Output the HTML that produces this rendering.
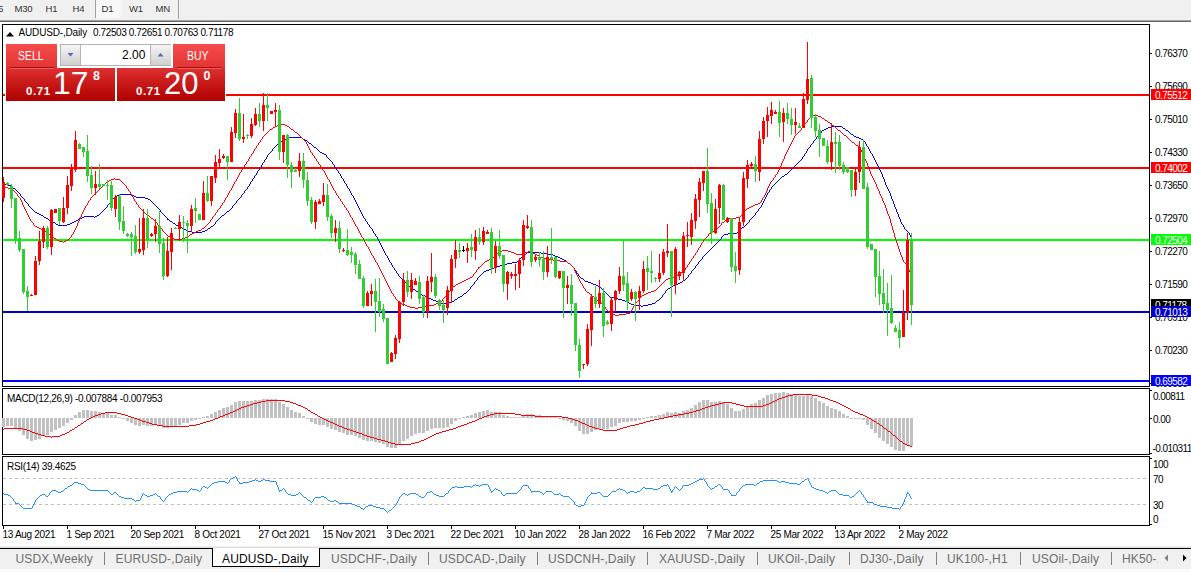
<!DOCTYPE html>
<html><head><meta charset="utf-8"><title>AUDUSD-,Daily</title>
<style>
html,body{margin:0;padding:0;background:#fff;}
html{width:1191px;height:572px;overflow:hidden;}
body{width:1191px;height:572px;position:relative;overflow:hidden;font-family:"Liberation Sans", sans-serif;}
.t{position:absolute;white-space:nowrap;line-height:1;color:#000;}
.ax{font-size:10px;letter-spacing:-0.55px;}
.tx{font-size:10px;letter-spacing:-0.3px;}
.tb{font-size:9.5px;color:#303030;letter-spacing:-0.2px;}
.tab{font-size:12px;color:#6e6e6e;letter-spacing:0.15px;}
.lbl{position:absolute;left:1151px;width:40px;height:11px;color:#fff;font-size:10px;letter-spacing:-0.55px;line-height:11px;white-space:nowrap;}
.lbl span{position:absolute;left:4px;top:1px;}
svg{position:absolute;left:0;top:0;}
</style></head><body>
<!-- toolbar -->
<div style="position:absolute;left:0;top:0;width:1191px;height:20px;background:#f0f0f0;"></div>
<div style="position:absolute;left:0;top:20px;width:1191px;height:1px;background:#a0a0a0;"></div>
<div style="position:absolute;left:0;top:21px;width:1191px;height:1px;background:#696969;"></div>
<div style="position:absolute;left:95px;top:0;width:25px;height:18px;background:#f8f8f8;border-left:1px solid #a0a0a0;"></div>
<div style="position:absolute;left:178px;top:0;width:1px;height:19px;background:#a0a0a0;"></div>

<div class="t tb" style="left:-2px;top:4px;">5</div>
<div class="t tb" style="left:14.5px;top:4px;">M30</div>
<div class="t tb" style="left:45.5px;top:4px;">H1</div>
<div class="t tb" style="left:72.5px;top:4px;">H4</div>
<div class="t tb" style="left:101.5px;top:4px;">D1</div>
<div class="t tb" style="left:129px;top:4px;">W1</div>
<div class="t tb" style="left:155.5px;top:4px;">MN</div>
<svg width="1191" height="572" viewBox="0 0 1191 572" shape-rendering="crispEdges">
<rect x="2" y="24" width="1148" height="1" fill="#000"/><rect x="2" y="386" width="1148" height="1" fill="#000"/><rect x="2" y="24" width="1" height="363" fill="#000"/><rect x="1149" y="24" width="1" height="363" fill="#000"/>
<rect x="2" y="388" width="1148" height="1" fill="#000"/><rect x="2" y="454" width="1148" height="1" fill="#000"/><rect x="2" y="388" width="1" height="67" fill="#000"/><rect x="1149" y="388" width="1" height="67" fill="#000"/>
<rect x="2" y="456" width="1148" height="1" fill="#000"/><rect x="2" y="525" width="1148" height="1" fill="#000"/><rect x="2" y="456" width="1" height="70" fill="#000"/><rect x="1149" y="456" width="1" height="70" fill="#000"/>
<rect x="1150" y="53" width="2" height="1" fill="#000"/>
<rect x="1150" y="86" width="2" height="1" fill="#000"/>
<rect x="1150" y="119" width="2" height="1" fill="#000"/>
<rect x="1150" y="152" width="2" height="1" fill="#000"/>
<rect x="1150" y="185" width="2" height="1" fill="#000"/>
<rect x="1150" y="218" width="2" height="1" fill="#000"/>
<rect x="1150" y="251" width="2" height="1" fill="#000"/>
<rect x="1150" y="284" width="2" height="1" fill="#000"/>
<rect x="1150" y="317" width="2" height="1" fill="#000"/>
<rect x="1150" y="350" width="2" height="1" fill="#000"/>
<rect x="1150" y="383" width="2" height="1" fill="#000"/>
<rect x="1150" y="390" width="2" height="1" fill="#000"/>
<rect x="1150" y="418" width="2" height="1" fill="#000"/>
<rect x="1150" y="453" width="2" height="1" fill="#000"/>
<rect x="1150" y="458" width="2" height="1" fill="#000"/>
<rect x="1150" y="524" width="2" height="1" fill="#000"/>
<rect x="3" y="526" width="1" height="3" fill="#000"/>
<rect x="67" y="526" width="1" height="3" fill="#000"/>
<rect x="131" y="526" width="1" height="3" fill="#000"/>
<rect x="195" y="526" width="1" height="3" fill="#000"/>
<rect x="259" y="526" width="1" height="3" fill="#000"/>
<rect x="323" y="526" width="1" height="3" fill="#000"/>
<rect x="387" y="526" width="1" height="3" fill="#000"/>
<rect x="451" y="526" width="1" height="3" fill="#000"/>
<rect x="515" y="526" width="1" height="3" fill="#000"/>
<rect x="579" y="526" width="1" height="3" fill="#000"/>
<rect x="643" y="526" width="1" height="3" fill="#000"/>
<rect x="707" y="526" width="1" height="3" fill="#000"/>
<rect x="771" y="526" width="1" height="3" fill="#000"/>
<rect x="835" y="526" width="1" height="3" fill="#000"/>
<rect x="899" y="526" width="1" height="3" fill="#000"/>
<rect x="3" y="94" width="1146" height="2" fill="#ff0000"/>
<rect x="3" y="167" width="1146" height="2" fill="#ff0000"/>
<rect x="3" y="239" width="1146" height="2" fill="#00ff00"/>
<rect x="3" y="311" width="1146" height="2" fill="#0000cd"/>
<rect x="3" y="380" width="1146" height="2" fill="#0000ff"/>
<path d="M3.5,184V185M4.5,184V185M5.5,184V185M6.5,184V185M7.5,185V186M8.5,185V186M9.5,185V186M10.5,185V186M11.5,186V187M12.5,187V188M13.5,188V189M14.5,188V189M15.5,189V190M16.5,190V191M17.5,191V192M18.5,192V193M19.5,193V194M20.5,194V196M21.5,196V197M22.5,197V198M23.5,198V199M24.5,199V201M25.5,201V202M26.5,202V203M27.5,203V204M28.5,204V206M29.5,206V207M30.5,207V208M31.5,208V209M32.5,209V210M33.5,210V211M34.5,211V212M35.5,212V213M36.5,212V213M37.5,213V214M38.5,213V214M39.5,214V215M40.5,214V215M41.5,215V216M42.5,215V216M43.5,216V217M44.5,217V218M45.5,217V218M46.5,218V219M47.5,218V219M48.5,219V220M49.5,220V221M50.5,220V221M51.5,221V222M52.5,221V222M53.5,222V223M54.5,222V223M55.5,223V224M56.5,224V225M57.5,224V225M58.5,225V226M59.5,225V226M60.5,225V226M61.5,225V226M62.5,225V226M63.5,225V226M64.5,225V226M65.5,225V226M66.5,225V226M67.5,224V225M68.5,224V225M69.5,224V225M70.5,223V224M71.5,223V224M72.5,222V223M73.5,222V223M74.5,221V222M75.5,221V222M76.5,220V221M77.5,220V221M78.5,219V220M79.5,218V219M80.5,218V219M81.5,218V219M82.5,217V218M83.5,217V218M84.5,216V217M85.5,216V217M86.5,216V217M87.5,216V217M88.5,216V217M89.5,216V217M90.5,216V217M91.5,216V217M92.5,216V217M93.5,216V217M94.5,217V218M95.5,216V217M96.5,216V217M97.5,215V216M98.5,215V216M99.5,214V215M100.5,213V214M101.5,212V213M102.5,211V212M103.5,210V211M104.5,209V210M105.5,208V209M106.5,207V208M107.5,205V207M108.5,204V205M109.5,203V204M110.5,202V203M111.5,200V202M112.5,199V200M113.5,198V199M114.5,197V198M115.5,196V197M116.5,196V197M117.5,195V196M118.5,195V196M119.5,194V195M120.5,194V195M121.5,194V195M122.5,194V195M123.5,194V195M124.5,194V195M125.5,194V195M126.5,194V195M127.5,194V195M128.5,194V195M129.5,194V195M130.5,194V195M131.5,194V195M132.5,195V196M133.5,195V196M134.5,196V197M135.5,196V197M136.5,197V198M137.5,197V198M138.5,197V198M139.5,197V198M140.5,197V198M141.5,197V198M142.5,197V198M143.5,197V198M144.5,197V198M145.5,198V199M146.5,198V199M147.5,198V199M148.5,199V200M149.5,199V200M150.5,200V201M151.5,201V202M152.5,202V203M153.5,203V204M154.5,204V205M155.5,205V206M156.5,206V207M157.5,207V208M158.5,208V209M159.5,209V210M160.5,210V212M161.5,212V213M162.5,213V214M163.5,214V215M164.5,215V216M165.5,216V217M166.5,217V218M167.5,218V220M168.5,219V220M169.5,220V221M170.5,221V222M171.5,221V222M172.5,222V223M173.5,223V224M174.5,223V224M175.5,224V225M176.5,225V226M177.5,225V226M178.5,226V227M179.5,226V227M180.5,227V228M181.5,227V228M182.5,228V229M183.5,228V229M184.5,229V230M185.5,229V230M186.5,230V231M187.5,230V231M188.5,231V232M189.5,231V232M190.5,231V232M191.5,231V232M192.5,232V233M193.5,232V233M194.5,232V233M195.5,232V233M196.5,232V233M197.5,232V233M198.5,232V233M199.5,232V233M200.5,232V233M201.5,232V233M202.5,231V232M203.5,231V232M204.5,231V232M205.5,230V231M206.5,230V231M207.5,229V230M208.5,228V229M209.5,228V229M210.5,227V228M211.5,226V227M212.5,226V227M213.5,225V226M214.5,224V225M215.5,222V224M216.5,221V222M217.5,220V221M218.5,219V220M219.5,218V219M220.5,217V218M221.5,216V217M222.5,215V216M223.5,215V216M224.5,214V215M225.5,213V214M226.5,212V213M227.5,211V212M228.5,211V212M229.5,210V211M230.5,209V210M231.5,208V209M232.5,206V208M233.5,205V206M234.5,204V205M235.5,203V204M236.5,201V203M237.5,200V201M238.5,199V200M239.5,198V199M240.5,197V198M241.5,195V197M242.5,194V195M243.5,193V194M244.5,191V193M245.5,190V191M246.5,189V190M247.5,187V189M248.5,186V187M249.5,184V186M250.5,182V184M251.5,181V182M252.5,179V181M253.5,178V179M254.5,176V178M255.5,175V176M256.5,173V175M257.5,171V173M258.5,170V171M259.5,168V170M260.5,167V168M261.5,165V167M262.5,163V165M263.5,162V163M264.5,160V162M265.5,159V160M266.5,157V159M267.5,155V157M268.5,154V155M269.5,153V154M270.5,152V153M271.5,151V152M272.5,149V151M273.5,148V149M274.5,147V148M275.5,146V147M276.5,145V146M277.5,144V145M278.5,143V144M279.5,142V143M280.5,142V143M281.5,141V142M282.5,140V141M283.5,140V141M284.5,139V140M285.5,139V140M286.5,138V139M287.5,138V139M288.5,138V139M289.5,137V138M290.5,137V138M291.5,137V138M292.5,137V138M293.5,137V138M294.5,137V138M295.5,137V138M296.5,137V138M297.5,137V138M298.5,137V138M299.5,137V138M300.5,137V138M301.5,137V138M302.5,138V139M303.5,139V140M304.5,139V140M305.5,140V141M306.5,140V141M307.5,141V142M308.5,142V143M309.5,143V144M310.5,143V144M311.5,144V145M312.5,145V146M313.5,146V147M314.5,147V148M315.5,147V148M316.5,148V149M317.5,149V150M318.5,150V151M319.5,151V152M320.5,152V153M321.5,152V153M322.5,153V154M323.5,153V154M324.5,154V155M325.5,154V155M326.5,155V157M327.5,157V158M328.5,158V159M329.5,159V160M330.5,160V161M331.5,161V162M332.5,162V164M333.5,164V165M334.5,165V167M335.5,167V168M336.5,168V170M337.5,170V171M338.5,171V173M339.5,173V174M340.5,174V176M341.5,176V178M342.5,178V179M343.5,179V181M344.5,181V183M345.5,183V184M346.5,184V186M347.5,186V188M348.5,188V189M349.5,189V191M350.5,191V193M351.5,193V195M352.5,195V196M353.5,196V198M354.5,198V200M355.5,200V202M356.5,202V204M357.5,204V206M358.5,206V208M359.5,208V210M360.5,210V212M361.5,212V214M362.5,214V216M363.5,216V218M364.5,218V219M365.5,219V221M366.5,221V222M367.5,222V224M368.5,224V225M369.5,225V227M370.5,227V228M371.5,228V229M372.5,229V231M373.5,231V233M374.5,233V234M375.5,234V236M376.5,236V237M377.5,237V239M378.5,239V241M379.5,241V243M380.5,243V245M381.5,245V247M382.5,247V249M383.5,249V251M384.5,251V253M385.5,253V255M386.5,255V256M387.5,256V258M388.5,258V260M389.5,260V262M390.5,262V263M391.5,263V265M392.5,265V267M393.5,267V268M394.5,268V270M395.5,270V271M396.5,271V273M397.5,273V274M398.5,274V276M399.5,276V277M400.5,277V278M401.5,278V279M402.5,279V280M403.5,280V281M404.5,281V282M405.5,282V283M406.5,283V284M407.5,284V285M408.5,285V286M409.5,286V287M410.5,286V287M411.5,287V288M412.5,288V289M413.5,289V290M414.5,289V290M415.5,290V291M416.5,291V292M417.5,291V292M418.5,292V293M419.5,293V294M420.5,293V294M421.5,294V295M422.5,295V296M423.5,295V296M424.5,295V296M425.5,296V297M426.5,296V297M427.5,297V298M428.5,297V298M429.5,298V299M430.5,298V299M431.5,299V300M432.5,299V300M433.5,300V301M434.5,300V301M435.5,300V301M436.5,301V302M437.5,301V302M438.5,302V303M439.5,302V303M440.5,302V303M441.5,303V304M442.5,303V304M443.5,303V304M444.5,303V304M445.5,303V304M446.5,303V304M447.5,302V303M448.5,302V303M449.5,302V303M450.5,302V303M451.5,301V302M452.5,301V302M453.5,301V302M454.5,300V301M455.5,299V300M456.5,299V300M457.5,298V299M458.5,297V298M459.5,297V298M460.5,296V297M461.5,296V297M462.5,295V296M463.5,294V295M464.5,293V294M465.5,293V294M466.5,292V293M467.5,291V292M468.5,290V291M469.5,289V290M470.5,287V289M471.5,286V287M472.5,285V286M473.5,284V285M474.5,282V284M475.5,281V282M476.5,280V281M477.5,278V280M478.5,277V278M479.5,276V277M480.5,275V276M481.5,274V275M482.5,273V274M483.5,272V273M484.5,271V272M485.5,271V272M486.5,270V271M487.5,270V271M488.5,270V271M489.5,269V270M490.5,269V270M491.5,268V269M492.5,268V269M493.5,268V269M494.5,267V268M495.5,267V268M496.5,266V267M497.5,266V267M498.5,266V267M499.5,266V267M500.5,265V266M501.5,265V266M502.5,265V266M503.5,264V265M504.5,264V265M505.5,264V265M506.5,264V265M507.5,263V264M508.5,263V264M509.5,263V264M510.5,263V264M511.5,263V264M512.5,262V263M513.5,262V263M514.5,262V263M515.5,262V263M516.5,262V263M517.5,261V262M518.5,260V261M519.5,259V260M520.5,258V259M521.5,257V258M522.5,256V257M523.5,255V256M524.5,254V255M525.5,254V255M526.5,253V254M527.5,252V253M528.5,252V253M529.5,252V253M530.5,252V253M531.5,252V253M532.5,252V253M533.5,252V253M534.5,252V253M535.5,252V253M536.5,252V253M537.5,252V253M538.5,252V253M539.5,252V253M540.5,252V253M541.5,253V254M542.5,253V254M543.5,253V254M544.5,253V254M545.5,253V254M546.5,253V254M547.5,253V254M548.5,254V255M549.5,254V255M550.5,254V255M551.5,254V255M552.5,254V255M553.5,255V256M554.5,255V256M555.5,256V257M556.5,256V257M557.5,256V257M558.5,257V258M559.5,257V258M560.5,258V259M561.5,258V259M562.5,259V260M563.5,259V260M564.5,260V261M565.5,260V261M566.5,261V262M567.5,262V263M568.5,263V264M569.5,263V264M570.5,264V265M571.5,265V266M572.5,266V267M573.5,267V268M574.5,268V270M575.5,270V271M576.5,271V273M577.5,273V274M578.5,274V276M579.5,276V277M580.5,277V278M581.5,278V279M582.5,278V279M583.5,279V280M584.5,280V281M585.5,281V282M586.5,281V282M587.5,281V282M588.5,282V283M589.5,282V283M590.5,282V283M591.5,283V284M592.5,283V284M593.5,284V285M594.5,284V285M595.5,284V285M596.5,285V286M597.5,285V286M598.5,286V287M599.5,286V287M600.5,287V288M601.5,288V289M602.5,289V290M603.5,290V291M604.5,291V292M605.5,292V293M606.5,293V294M607.5,294V295M608.5,295V296M609.5,296V297M610.5,297V298M611.5,297V298M612.5,297V298M613.5,297V298M614.5,298V299M615.5,298V299M616.5,298V299M617.5,298V299M618.5,299V300M619.5,299V300M620.5,299V300M621.5,299V300M622.5,300V301M623.5,300V301M624.5,300V301M625.5,301V302M626.5,301V302M627.5,302V303M628.5,302V303M629.5,303V304M630.5,303V304M631.5,304V305M632.5,304V305M633.5,304V305M634.5,305V306M635.5,305V306M636.5,305V306M637.5,305V306M638.5,305V306M639.5,305V306M640.5,305V306M641.5,306V307M642.5,306V307M643.5,305V306M644.5,305V306M645.5,305V306M646.5,305V306M647.5,305V306M648.5,304V305M649.5,304V305M650.5,304V305M651.5,304V305M652.5,303V304M653.5,303V304M654.5,303V304M655.5,302V303M656.5,301V302M657.5,300V301M658.5,300V301M659.5,299V300M660.5,298V299M661.5,297V298M662.5,295V297M663.5,294V295M664.5,293V294M665.5,291V293M666.5,290V291M667.5,289V290M668.5,288V289M669.5,288V289M670.5,287V288M671.5,286V287M672.5,286V287M673.5,285V286M674.5,285V286M675.5,284V285M676.5,284V285M677.5,284V285M678.5,283V284M679.5,283V284M680.5,282V283M681.5,282V283M682.5,281V282M683.5,280V281M684.5,280V281M685.5,279V280M686.5,278V279M687.5,277V278M688.5,275V277M689.5,274V275M690.5,273V274M691.5,271V273M692.5,270V271M693.5,269V270M694.5,268V269M695.5,266V268M696.5,265V266M697.5,264V265M698.5,262V264M699.5,261V262M700.5,260V261M701.5,259V260M702.5,257V259M703.5,256V257M704.5,255V256M705.5,254V255M706.5,253V254M707.5,252V253M708.5,251V252M709.5,250V251M710.5,249V250M711.5,248V249M712.5,247V248M713.5,246V247M714.5,245V246M715.5,244V245M716.5,243V244M717.5,242V243M718.5,241V242M719.5,240V241M720.5,239V240M721.5,237V239M722.5,236V237M723.5,235V236M724.5,234V235M725.5,234V235M726.5,234V235M727.5,234V235M728.5,233V234M729.5,233V234M730.5,233V234M731.5,233V234M732.5,233V234M733.5,233V234M734.5,233V234M735.5,233V234M736.5,233V234M737.5,232V233M738.5,231V232M739.5,230V231M740.5,229V230M741.5,228V229M742.5,227V228M743.5,227V228M744.5,226V227M745.5,225V226M746.5,224V225M747.5,223V224M748.5,222V223M749.5,220V222M750.5,219V220M751.5,218V219M752.5,217V218M753.5,216V217M754.5,215V216M755.5,213V215M756.5,212V213M757.5,211V212M758.5,209V211M759.5,208V209M760.5,207V208M761.5,205V207M762.5,203V205M763.5,201V203M764.5,199V201M765.5,197V199M766.5,195V197M767.5,193V195M768.5,192V193M769.5,190V192M770.5,189V190M771.5,187V189M772.5,186V187M773.5,185V186M774.5,184V185M775.5,183V184M776.5,182V183M777.5,181V182M778.5,180V181M779.5,179V180M780.5,178V179M781.5,177V178M782.5,176V177M783.5,176V177M784.5,175V176M785.5,174V175M786.5,174V175M787.5,173V174M788.5,172V173M789.5,171V172M790.5,170V171M791.5,169V170M792.5,168V169M793.5,167V168M794.5,166V167M795.5,165V166M796.5,164V165M797.5,163V164M798.5,162V163M799.5,161V162M800.5,160V161M801.5,159V160M802.5,157V159M803.5,156V157M804.5,154V156M805.5,153V154M806.5,151V153M807.5,149V151M808.5,148V149M809.5,147V148M810.5,145V147M811.5,144V145M812.5,143V144M813.5,141V143M814.5,140V141M815.5,139V140M816.5,137V139M817.5,136V137M818.5,135V136M819.5,134V135M820.5,133V134M821.5,131V133M822.5,130V131M823.5,130V131M824.5,129V130M825.5,129V130M826.5,128V129M827.5,128V129M828.5,127V128M829.5,127V128M830.5,127V128M831.5,127V128M832.5,126V127M833.5,126V127M834.5,126V127M835.5,126V127M836.5,126V127M837.5,126V127M838.5,126V127M839.5,126V127M840.5,126V127M841.5,126V127M842.5,127V128M843.5,128V129M844.5,128V129M845.5,129V130M846.5,130V131M847.5,130V131M848.5,131V132M849.5,132V133M850.5,133V134M851.5,134V135M852.5,134V135M853.5,135V136M854.5,136V137M855.5,136V137M856.5,137V138M857.5,137V138M858.5,137V138M859.5,138V139M860.5,138V139M861.5,139V140M862.5,139V140M863.5,140V141M864.5,141V142M865.5,142V144M866.5,144V146M867.5,146V147M868.5,147V149M869.5,149V151M870.5,151V153M871.5,153V154M872.5,154V156M873.5,156V158M874.5,158V160M875.5,160V162M876.5,162V164M877.5,164V166M878.5,166V168M879.5,168V170M880.5,170V172M881.5,172V174M882.5,174V176M882.5,176V177M883.5,177V179M884.5,179V181M884.5,181V182M885.5,182V184M885.5,184V185M886.5,185V187M887.5,187V189M888.5,189V191M889.5,191V193M890.5,193V195M890.5,195V196M891.5,196V198M891.5,198V199M892.5,199V201M893.5,201V203M893.5,203V204M894.5,204V206M894.5,206V207M895.5,207V209M896.5,209V211M896.5,211V212M897.5,212V214M898.5,214V216M898.5,216V217M899.5,217V219M900.5,219V221M900.5,221V222M901.5,222V224M902.5,224V225M903.5,225V227M904.5,227V229M905.5,229V230M906.5,230V231M907.5,231V232M908.5,232V233M909.5,233V235M910.5,235V237M911.5,237V238" fill="none" stroke="#0000e0" stroke-width="1"/>
<path d="M3.5,186V187M4.5,187V188M5.5,187V188M6.5,187V188M7.5,187V188M8.5,188V189M9.5,188V189M10.5,188V189M11.5,189V190M12.5,190V191M13.5,190V191M14.5,191V192M15.5,192V193M16.5,193V194M17.5,194V196M18.5,196V197M19.5,197V198M20.5,198V200M21.5,200V202M22.5,202V204M22.5,204V205M23.5,205V207M24.5,207V209M25.5,209V211M26.5,211V213M27.5,213V215M28.5,215V217M29.5,217V219M30.5,219V221M31.5,221V222M32.5,222V223M33.5,223V225M34.5,225V226M35.5,226V227M36.5,226V227M37.5,227V228M38.5,227V228M39.5,228V229M40.5,228V229M41.5,229V230M42.5,229V230M43.5,230V231M44.5,230V231M45.5,231V232M46.5,232V233M47.5,232V233M48.5,233V234M49.5,234V235M50.5,235V236M51.5,236V237M52.5,236V237M53.5,237V238M54.5,238V239M55.5,238V239M56.5,239V240M57.5,240V241M58.5,240V241M59.5,241V242M60.5,241V242M61.5,241V242M62.5,241V242M63.5,242V243M64.5,241V242M65.5,241V242M66.5,240V241M67.5,240V241M68.5,239V240M69.5,238V239M70.5,237V238M71.5,235V237M72.5,234V235M73.5,232V234M74.5,231V232M74.5,230V231M75.5,228V230M76.5,226V228M77.5,224V226M77.5,223V224M78.5,221V223M79.5,219V221M80.5,217V219M81.5,215V217M81.5,214V215M82.5,212V214M83.5,210V212M84.5,208V210M85.5,206V208M86.5,205V206M87.5,203V205M88.5,201V203M89.5,200V201M90.5,198V200M91.5,197V198M92.5,196V197M93.5,195V196M94.5,194V195M95.5,193V194M96.5,192V193M97.5,191V192M98.5,190V191M99.5,189V190M100.5,188V189M101.5,187V188M102.5,186V187M103.5,185V186M104.5,184V185M105.5,183V184M106.5,182V183M107.5,182V183M108.5,181V182M109.5,180V181M110.5,180V181M111.5,179V180M112.5,179V180M113.5,179V180M114.5,178V179M115.5,179V180M116.5,179V180M117.5,179V180M118.5,179V180M119.5,179V180M120.5,180V181M121.5,181V182M122.5,182V183M123.5,183V184M124.5,184V185M125.5,185V186M126.5,186V188M127.5,188V189M128.5,189V191M129.5,191V192M130.5,192V194M131.5,194V196M132.5,196V197M133.5,197V199M134.5,199V201M135.5,201V202M136.5,202V204M137.5,204V205M138.5,205V207M139.5,207V208M140.5,208V209M141.5,209V210M142.5,210V211M143.5,211V212M144.5,212V213M145.5,213V214M146.5,214V215M147.5,215V216M148.5,215V216M149.5,216V217M150.5,217V218M151.5,218V219M152.5,218V219M153.5,219V220M154.5,220V221M155.5,221V222M156.5,222V223M157.5,223V225M158.5,225V226M159.5,226V227M160.5,227V228M161.5,228V229M162.5,229V231M163.5,231V232M164.5,232V233M165.5,233V234M166.5,234V235M167.5,235V236M168.5,236V237M169.5,236V237M170.5,237V238M171.5,237V238M172.5,238V239M173.5,238V239M174.5,239V240M175.5,239V240M176.5,239V240M177.5,239V240M178.5,239V240M179.5,239V240M180.5,239V240M181.5,239V240M182.5,238V239M183.5,238V239M184.5,238V239M185.5,237V238M186.5,237V238M187.5,236V237M188.5,236V237M189.5,235V236M190.5,234V235M191.5,234V235M192.5,233V234M193.5,233V234M194.5,232V233M195.5,232V233M196.5,231V232M197.5,231V232M198.5,230V231M199.5,230V231M200.5,230V231M201.5,229V230M202.5,228V229M203.5,228V229M204.5,227V228M205.5,226V227M206.5,225V226M207.5,224V225M208.5,223V224M209.5,222V223M210.5,220V222M211.5,219V220M212.5,217V219M213.5,216V217M214.5,215V216M215.5,213V215M216.5,212V213M217.5,210V212M218.5,209V210M219.5,208V209M220.5,206V208M221.5,205V206M222.5,203V205M223.5,202V203M224.5,200V202M225.5,198V200M226.5,197V198M227.5,195V197M228.5,193V195M229.5,191V193M230.5,190V191M231.5,188V190M232.5,186V188M233.5,184V186M234.5,182V184M235.5,181V182M236.5,179V181M237.5,177V179M238.5,175V177M239.5,173V175M240.5,172V173M241.5,170V172M242.5,169V170M243.5,167V169M244.5,165V167M245.5,164V165M246.5,162V164M247.5,161V162M248.5,159V161M249.5,157V159M250.5,156V157M251.5,154V156M252.5,153V154M253.5,151V153M254.5,149V151M255.5,148V149M256.5,146V148M257.5,145V146M258.5,143V145M259.5,142V143M260.5,140V142M261.5,139V140M262.5,137V139M263.5,136V137M264.5,135V136M265.5,134V135M266.5,133V134M267.5,132V133M268.5,131V132M269.5,130V131M270.5,129V130M271.5,129V130M272.5,128V129M273.5,127V128M274.5,127V128M275.5,126V127M276.5,126V127M277.5,125V126M278.5,125V126M279.5,125V126M280.5,125V126M281.5,124V125M282.5,124V125M283.5,124V125M284.5,124V125M285.5,125V126M286.5,125V126M287.5,126V127M288.5,126V127M289.5,127V128M290.5,128V129M291.5,129V130M292.5,129V130M293.5,130V131M294.5,131V132M295.5,132V133M296.5,132V133M297.5,133V134M298.5,134V135M299.5,135V136M300.5,136V137M301.5,137V138M302.5,138V139M303.5,139V140M304.5,140V141M305.5,141V142M306.5,142V144M307.5,144V146M308.5,146V148M309.5,148V150M310.5,150V152M311.5,152V153M312.5,153V155M313.5,155V156M314.5,156V158M315.5,158V159M316.5,159V161M317.5,161V162M318.5,162V164M319.5,164V165M320.5,165V167M321.5,167V168M322.5,168V170M323.5,170V171M324.5,171V173M325.5,173V175M326.5,175V177M327.5,177V179M328.5,179V180M329.5,180V182M330.5,182V184M331.5,184V186M332.5,186V188M333.5,188V190M334.5,190V191M335.5,191V193M336.5,193V195M337.5,195V196M338.5,196V198M339.5,198V199M340.5,199V201M341.5,201V202M342.5,202V204M343.5,204V205M344.5,205V207M345.5,207V208M346.5,208V210M347.5,210V211M348.5,211V213M349.5,213V215M350.5,215V217M351.5,217V218M352.5,218V220M353.5,220V222M354.5,222V224M355.5,224V226M356.5,226V227M357.5,227V229M358.5,229V231M359.5,231V233M360.5,233V235M361.5,235V237M362.5,237V238M363.5,238V240M364.5,240V242M365.5,242V244M366.5,244V246M367.5,246V247M368.5,247V249M369.5,249V251M370.5,251V253M371.5,253V255M372.5,255V256M373.5,256V258M374.5,258V260M375.5,260V262M376.5,262V263M377.5,263V265M378.5,265V267M379.5,267V269M380.5,269V271M381.5,271V273M382.5,273V275M383.5,275V277M384.5,277V279M385.5,279V281M386.5,281V283M387.5,283V285M388.5,285V287M389.5,287V289M390.5,289V291M391.5,291V293M392.5,293V294M393.5,294V296M394.5,296V297M395.5,297V299M396.5,299V300M397.5,300V301M398.5,301V302M399.5,302V303M400.5,302V303M401.5,303V304M402.5,304V305M403.5,304V305M404.5,304V305M405.5,305V306M406.5,305V306M407.5,306V307M408.5,306V307M409.5,306V307M410.5,307V308M411.5,307V308M412.5,307V308M413.5,307V308M414.5,307V308M415.5,308V309M416.5,308V309M417.5,308V309M418.5,307V308M419.5,307V308M420.5,307V308M421.5,307V308M422.5,307V308M423.5,307V308M424.5,307V308M425.5,306V307M426.5,306V307M427.5,306V307M428.5,306V307M429.5,305V306M430.5,305V306M431.5,305V306M432.5,305V306M433.5,305V306M434.5,304V305M435.5,304V305M436.5,303V304M437.5,303V304M438.5,302V303M439.5,302V303M440.5,302V303M441.5,301V302M442.5,299V301M443.5,298V299M444.5,297V298M445.5,296V297M446.5,294V296M447.5,293V294M448.5,292V293M449.5,291V292M450.5,290V291M451.5,289V290M452.5,287V289M453.5,286V287M454.5,286V287M455.5,285V286M456.5,284V285M457.5,284V285M458.5,283V284M459.5,283V284M460.5,282V283M461.5,282V283M462.5,281V282M463.5,281V282M464.5,280V281M465.5,280V281M466.5,279V280M467.5,279V280M468.5,278V279M469.5,278V279M470.5,277V278M471.5,277V278M472.5,276V277M473.5,274V276M474.5,273V274M475.5,272V273M476.5,270V272M477.5,269V270M478.5,267V269M479.5,267V268M480.5,266V267M481.5,265V266M482.5,264V265M483.5,263V264M484.5,262V263M485.5,261V262M486.5,261V262M487.5,260V261M488.5,260V261M489.5,259V260M490.5,259V260M491.5,258V259M492.5,257V258M493.5,257V258M494.5,256V257M495.5,255V256M496.5,254V255M497.5,253V254M498.5,253V254M499.5,252V253M500.5,252V253M501.5,251V252M502.5,250V251M503.5,250V251M504.5,250V251M505.5,250V251M506.5,250V251M507.5,250V251M508.5,251V252M509.5,251V252M510.5,251V252M511.5,252V253M512.5,252V253M513.5,252V253M514.5,253V254M515.5,253V254M516.5,254V255M517.5,254V255M518.5,254V255M519.5,254V255M520.5,254V255M521.5,254V255M522.5,254V255M523.5,253V254M524.5,253V254M525.5,252V253M526.5,252V253M527.5,252V253M528.5,251V252M529.5,251V252M530.5,252V253M531.5,252V253M532.5,252V253M533.5,253V254M534.5,253V254M535.5,254V255M536.5,254V255M537.5,255V256M538.5,255V256M539.5,256V257M540.5,257V258M541.5,257V258M542.5,257V258M543.5,258V259M544.5,258V259M545.5,258V259M546.5,258V259M547.5,258V259M548.5,259V260M549.5,259V260M550.5,259V260M551.5,259V260M552.5,259V260M553.5,260V261M554.5,260V261M555.5,260V261M556.5,260V261M557.5,260V261M558.5,260V261M559.5,260V261M560.5,261V262M561.5,261V262M562.5,261V262M563.5,261V262M564.5,261V262M565.5,261V262M566.5,261V262M567.5,262V263M568.5,263V264M569.5,263V264M570.5,264V265M571.5,265V266M572.5,266V267M573.5,267V268M574.5,268V270M574.5,270V271M575.5,271V273M576.5,273V275M577.5,275V277M578.5,277V279M579.5,279V281M580.5,281V283M581.5,283V284M582.5,284V286M583.5,286V288M584.5,288V289M585.5,289V291M586.5,291V292M587.5,292V293M588.5,292V293M589.5,293V294M590.5,294V295M591.5,295V296M592.5,296V297M593.5,296V297M594.5,297V298M595.5,298V299M596.5,299V300M597.5,300V301M598.5,300V301M599.5,301V302M600.5,302V303M601.5,303V304M602.5,304V305M603.5,305V306M604.5,306V307M605.5,307V309M606.5,309V310M607.5,310V311M608.5,311V312M609.5,312V313M610.5,313V315M611.5,314V315M612.5,314V315M613.5,314V315M614.5,314V315M615.5,315V316M616.5,315V316M617.5,315V316M618.5,315V316M619.5,314V315M620.5,314V315M621.5,314V315M622.5,314V315M623.5,314V315M624.5,314V315M625.5,314V315M626.5,313V314M627.5,313V314M628.5,313V314M629.5,313V314M630.5,311V313M631.5,310V311M632.5,308V310M633.5,306V308M634.5,305V306M635.5,303V305M636.5,302V303M637.5,301V302M638.5,300V301M639.5,298V300M640.5,297V298M641.5,296V297M642.5,295V296M643.5,295V296M644.5,294V295M645.5,294V295M646.5,293V294M647.5,293V294M648.5,292V293M649.5,292V293M650.5,292V293M651.5,291V292M652.5,291V292M653.5,291V292M654.5,290V291M655.5,290V291M656.5,289V290M657.5,288V289M658.5,287V288M659.5,286V287M660.5,285V286M661.5,284V285M662.5,283V284M663.5,282V283M664.5,281V282M665.5,280V281M666.5,279V280M667.5,279V280M668.5,278V279M669.5,278V279M670.5,278V279M671.5,278V279M672.5,277V278M673.5,277V278M674.5,277V278M675.5,276V277M676.5,276V277M677.5,275V276M678.5,275V276M679.5,274V275M680.5,273V274M681.5,272V273M682.5,271V272M683.5,271V272M684.5,270V271M685.5,268V270M686.5,267V268M687.5,265V267M688.5,264V265M689.5,262V264M690.5,261V262M691.5,259V261M692.5,258V259M693.5,256V258M694.5,255V256M695.5,253V255M696.5,252V253M697.5,250V252M698.5,248V250M699.5,247V248M700.5,245V247M701.5,243V245M702.5,242V243M703.5,240V242M704.5,239V240M705.5,238V239M706.5,237V238M707.5,236V237M708.5,234V236M709.5,233V234M710.5,233V234M711.5,232V233M712.5,232V233M713.5,231V232M714.5,231V232M715.5,230V231M716.5,229V230M717.5,228V229M718.5,227V228M719.5,226V227M720.5,225V226M721.5,223V225M722.5,222V223M723.5,222V223M724.5,221V222M725.5,220V221M726.5,219V220M727.5,218V219M728.5,218V219M729.5,218V219M730.5,218V219M731.5,218V219M732.5,218V219M733.5,218V219M734.5,218V219M735.5,218V219M736.5,217V218M737.5,217V218M738.5,217V218M739.5,217V218M740.5,216V217M741.5,215V216M742.5,214V215M743.5,213V214M744.5,211V213M745.5,210V211M746.5,209V210M747.5,208V209M748.5,208V209M749.5,207V208M750.5,207V208M751.5,206V207M752.5,206V207M753.5,205V206M754.5,205V206M755.5,204V205M756.5,204V205M757.5,204V205M758.5,203V204M759.5,203V204M760.5,202V203M761.5,200V202M762.5,198V200M763.5,197V198M764.5,195V197M765.5,193V195M766.5,191V193M767.5,189V191M767.5,188V189M768.5,186V188M769.5,184V186M770.5,182V184M771.5,181V182M772.5,180V181M773.5,178V180M774.5,177V178M775.5,175V177M776.5,174V175M777.5,172V174M778.5,170V172M779.5,168V170M780.5,166V168M781.5,164V166M781.5,163V164M782.5,161V163M783.5,159V161M784.5,157V159M784.5,156V157M785.5,154V156M786.5,152V154M787.5,150V152M788.5,148V150M789.5,146V148M790.5,144V146M791.5,142V144M792.5,140V142M793.5,138V140M794.5,136V138M795.5,135V136M796.5,134V135M797.5,133V134M798.5,132V133M799.5,131V132M800.5,130V131M801.5,128V130M802.5,127V128M803.5,126V127M804.5,124V126M805.5,123V124M806.5,122V123M807.5,120V122M808.5,119V120M809.5,118V119M810.5,116V118M811.5,116V117M812.5,116V117M813.5,115V116M814.5,115V116M815.5,115V116M816.5,115V116M817.5,115V116M818.5,116V117M819.5,116V117M820.5,116V117M821.5,117V118M822.5,118V119M823.5,118V119M824.5,119V120M825.5,120V121M826.5,120V121M827.5,121V122M828.5,122V123M829.5,122V123M830.5,123V124M831.5,124V125M832.5,125V126M833.5,125V126M834.5,126V127M835.5,127V128M836.5,128V129M837.5,129V130M838.5,130V131M839.5,130V131M840.5,131V132M841.5,132V133M842.5,133V134M843.5,134V135M844.5,135V136M845.5,135V136M846.5,136V137M847.5,137V138M848.5,138V139M849.5,139V140M850.5,140V141M851.5,141V142M852.5,142V143M853.5,142V143M854.5,143V144M855.5,144V145M856.5,145V146M857.5,145V146M858.5,146V147M859.5,147V148M860.5,148V149M860.5,149V150M861.5,150V152M862.5,152V154M863.5,154V156M864.5,156V158M864.5,158V159M865.5,159V161M866.5,161V163M867.5,163V165M867.5,165V166M868.5,166V168M869.5,168V170M869.5,170V171M870.5,171V173M870.5,173V174M871.5,174V176M872.5,176V178M873.5,178V180M874.5,180V182M875.5,182V184M876.5,184V186M876.5,186V187M877.5,187V189M878.5,189V191M879.5,191V193M879.5,193V194M880.5,194V196M881.5,196V198M882.5,198V200M882.5,200V201M883.5,201V203M884.5,203V205M885.5,205V207M885.5,207V208M886.5,208V210M886.5,210V211M887.5,211V213M887.5,213V214M888.5,214V216M889.5,216V218M889.5,218V219M890.5,219V222M890.5,222V223M891.5,223V225M891.5,225V226M892.5,226V229M892.5,229V230M893.5,230V232M893.5,232V233M894.5,233V236M894.5,236V237M895.5,237V239M895.5,239V240M896.5,240V242M896.5,242V243M897.5,243V245M897.5,245V246M898.5,246V248M898.5,248V249M899.5,249V251M899.5,251V252M900.5,252V254M900.5,254V255M901.5,255V257M902.5,257V259M902.5,259V260M903.5,260V262M904.5,262V263M905.5,263V264M906.5,264V266M907.5,266V268M908.5,268V270M909.5,270V272M910.5,272V273M911.5,273V274" fill="none" stroke="#ff0000" stroke-width="1"/>
<rect x="3" y="177" width="1" height="25" fill="#ff0000"/>
<rect x="2" y="182" width="3" height="16" fill="#ff0000"/>
<rect x="7" y="182" width="1" height="4" fill="#32cd32"/>
<rect x="6" y="183" width="3" height="2" fill="#32cd32"/>
<rect x="11" y="184" width="1" height="24" fill="#32cd32"/>
<rect x="10" y="186" width="3" height="13" fill="#32cd32"/>
<rect x="15" y="198" width="1" height="46" fill="#32cd32"/>
<rect x="14" y="198" width="3" height="42" fill="#32cd32"/>
<rect x="19" y="231" width="1" height="21" fill="#32cd32"/>
<rect x="18" y="238" width="3" height="12" fill="#32cd32"/>
<rect x="23" y="249" width="1" height="45" fill="#32cd32"/>
<rect x="22" y="249" width="3" height="43" fill="#32cd32"/>
<rect x="27" y="286" width="1" height="25" fill="#32cd32"/>
<rect x="26" y="291" width="3" height="6" fill="#32cd32"/>
<rect x="31" y="294" width="1" height="2" fill="#ff0000"/>
<rect x="30" y="295" width="3" height="1" fill="#ff0000"/>
<rect x="35" y="256" width="1" height="39" fill="#ff0000"/>
<rect x="34" y="261" width="3" height="34" fill="#ff0000"/>
<rect x="39" y="231" width="1" height="34" fill="#ff0000"/>
<rect x="38" y="241" width="3" height="20" fill="#ff0000"/>
<rect x="43" y="226" width="1" height="22" fill="#ff0000"/>
<rect x="42" y="228" width="3" height="14" fill="#ff0000"/>
<rect x="47" y="226" width="1" height="23" fill="#32cd32"/>
<rect x="46" y="228" width="3" height="19" fill="#32cd32"/>
<rect x="51" y="209" width="1" height="46" fill="#ff0000"/>
<rect x="50" y="210" width="3" height="37" fill="#ff0000"/>
<rect x="55" y="209" width="1" height="4" fill="#ff0000"/>
<rect x="54" y="209" width="3" height="4" fill="#ff0000"/>
<rect x="59" y="208" width="1" height="17" fill="#32cd32"/>
<rect x="58" y="208" width="3" height="13" fill="#32cd32"/>
<rect x="63" y="197" width="1" height="26" fill="#ff0000"/>
<rect x="62" y="208" width="3" height="14" fill="#ff0000"/>
<rect x="67" y="176" width="1" height="38" fill="#ff0000"/>
<rect x="66" y="185" width="3" height="23" fill="#ff0000"/>
<rect x="71" y="164" width="1" height="27" fill="#ff0000"/>
<rect x="70" y="168" width="3" height="18" fill="#ff0000"/>
<rect x="75" y="131" width="1" height="41" fill="#ff0000"/>
<rect x="74" y="140" width="3" height="30" fill="#ff0000"/>
<rect x="79" y="143" width="1" height="6" fill="#32cd32"/>
<rect x="78" y="144" width="3" height="5" fill="#32cd32"/>
<rect x="83" y="147" width="1" height="10" fill="#32cd32"/>
<rect x="82" y="147" width="3" height="5" fill="#32cd32"/>
<rect x="87" y="135" width="1" height="47" fill="#32cd32"/>
<rect x="86" y="151" width="3" height="25" fill="#32cd32"/>
<rect x="91" y="166" width="1" height="28" fill="#32cd32"/>
<rect x="90" y="175" width="3" height="13" fill="#32cd32"/>
<rect x="95" y="171" width="1" height="24" fill="#ff0000"/>
<rect x="94" y="184" width="3" height="4" fill="#ff0000"/>
<rect x="99" y="164" width="1" height="25" fill="#32cd32"/>
<rect x="98" y="184" width="3" height="3" fill="#32cd32"/>
<rect x="103" y="184" width="1" height="2" fill="#32cd32"/>
<rect x="102" y="184" width="3" height="2" fill="#32cd32"/>
<rect x="107" y="180" width="1" height="20" fill="#32cd32"/>
<rect x="106" y="185" width="3" height="1" fill="#32cd32"/>
<rect x="111" y="181" width="1" height="30" fill="#32cd32"/>
<rect x="110" y="185" width="3" height="23" fill="#32cd32"/>
<rect x="115" y="195" width="1" height="22" fill="#ff0000"/>
<rect x="114" y="197" width="3" height="12" fill="#ff0000"/>
<rect x="119" y="194" width="1" height="36" fill="#32cd32"/>
<rect x="118" y="196" width="3" height="26" fill="#32cd32"/>
<rect x="123" y="206" width="1" height="28" fill="#32cd32"/>
<rect x="122" y="221" width="3" height="10" fill="#32cd32"/>
<rect x="127" y="233" width="1" height="4" fill="#32cd32"/>
<rect x="126" y="234" width="3" height="2" fill="#32cd32"/>
<rect x="131" y="232" width="1" height="24" fill="#32cd32"/>
<rect x="130" y="234" width="3" height="3" fill="#32cd32"/>
<rect x="135" y="225" width="1" height="29" fill="#32cd32"/>
<rect x="134" y="236" width="3" height="16" fill="#32cd32"/>
<rect x="139" y="218" width="1" height="36" fill="#ff0000"/>
<rect x="138" y="249" width="3" height="3" fill="#ff0000"/>
<rect x="143" y="209" width="1" height="46" fill="#ff0000"/>
<rect x="142" y="218" width="3" height="32" fill="#ff0000"/>
<rect x="147" y="209" width="1" height="39" fill="#32cd32"/>
<rect x="146" y="218" width="3" height="22" fill="#32cd32"/>
<rect x="151" y="233" width="1" height="4" fill="#ff0000"/>
<rect x="150" y="234" width="3" height="2" fill="#ff0000"/>
<rect x="155" y="219" width="1" height="23" fill="#ff0000"/>
<rect x="154" y="226" width="3" height="8" fill="#ff0000"/>
<rect x="159" y="211" width="1" height="42" fill="#32cd32"/>
<rect x="158" y="226" width="3" height="18" fill="#32cd32"/>
<rect x="163" y="238" width="1" height="42" fill="#32cd32"/>
<rect x="162" y="243" width="3" height="33" fill="#32cd32"/>
<rect x="167" y="237" width="1" height="40" fill="#ff0000"/>
<rect x="166" y="251" width="3" height="25" fill="#ff0000"/>
<rect x="171" y="228" width="1" height="42" fill="#ff0000"/>
<rect x="170" y="233" width="3" height="19" fill="#ff0000"/>
<rect x="175" y="227" width="1" height="2" fill="#32cd32"/>
<rect x="174" y="228" width="3" height="1" fill="#32cd32"/>
<rect x="179" y="215" width="1" height="26" fill="#ff0000"/>
<rect x="178" y="222" width="3" height="7" fill="#ff0000"/>
<rect x="183" y="216" width="1" height="26" fill="#32cd32"/>
<rect x="182" y="222" width="3" height="1" fill="#32cd32"/>
<rect x="187" y="220" width="1" height="33" fill="#32cd32"/>
<rect x="186" y="223" width="3" height="3" fill="#32cd32"/>
<rect x="191" y="205" width="1" height="27" fill="#ff0000"/>
<rect x="190" y="209" width="3" height="17" fill="#ff0000"/>
<rect x="195" y="198" width="1" height="25" fill="#32cd32"/>
<rect x="194" y="208" width="3" height="3" fill="#32cd32"/>
<rect x="199" y="214" width="1" height="6" fill="#32cd32"/>
<rect x="198" y="214" width="3" height="6" fill="#32cd32"/>
<rect x="203" y="181" width="1" height="39" fill="#ff0000"/>
<rect x="202" y="193" width="3" height="27" fill="#ff0000"/>
<rect x="207" y="176" width="1" height="26" fill="#32cd32"/>
<rect x="206" y="193" width="3" height="8" fill="#32cd32"/>
<rect x="211" y="176" width="1" height="30" fill="#ff0000"/>
<rect x="210" y="176" width="3" height="25" fill="#ff0000"/>
<rect x="215" y="155" width="1" height="28" fill="#ff0000"/>
<rect x="214" y="162" width="3" height="16" fill="#ff0000"/>
<rect x="219" y="149" width="1" height="18" fill="#ff0000"/>
<rect x="218" y="159" width="3" height="4" fill="#ff0000"/>
<rect x="223" y="154" width="1" height="5" fill="#ff0000"/>
<rect x="222" y="156" width="3" height="2" fill="#ff0000"/>
<rect x="227" y="156" width="1" height="24" fill="#32cd32"/>
<rect x="226" y="156" width="3" height="6" fill="#32cd32"/>
<rect x="231" y="127" width="1" height="35" fill="#ff0000"/>
<rect x="230" y="132" width="3" height="30" fill="#ff0000"/>
<rect x="235" y="109" width="1" height="29" fill="#ff0000"/>
<rect x="234" y="113" width="3" height="20" fill="#ff0000"/>
<rect x="239" y="98" width="1" height="43" fill="#32cd32"/>
<rect x="238" y="113" width="3" height="26" fill="#32cd32"/>
<rect x="243" y="114" width="1" height="29" fill="#ff0000"/>
<rect x="242" y="137" width="3" height="2" fill="#ff0000"/>
<rect x="247" y="134" width="1" height="5" fill="#32cd32"/>
<rect x="246" y="135" width="3" height="1" fill="#32cd32"/>
<rect x="251" y="118" width="1" height="20" fill="#ff0000"/>
<rect x="250" y="124" width="3" height="12" fill="#ff0000"/>
<rect x="255" y="108" width="1" height="18" fill="#ff0000"/>
<rect x="254" y="114" width="3" height="11" fill="#ff0000"/>
<rect x="259" y="103" width="1" height="24" fill="#32cd32"/>
<rect x="258" y="114" width="3" height="7" fill="#32cd32"/>
<rect x="263" y="93" width="1" height="38" fill="#ff0000"/>
<rect x="262" y="105" width="3" height="16" fill="#ff0000"/>
<rect x="267" y="93" width="1" height="28" fill="#32cd32"/>
<rect x="266" y="105" width="3" height="3" fill="#32cd32"/>
<rect x="271" y="111" width="1" height="3" fill="#ff0000"/>
<rect x="270" y="111" width="3" height="3" fill="#ff0000"/>
<rect x="275" y="103" width="1" height="23" fill="#ff0000"/>
<rect x="274" y="110" width="3" height="2" fill="#ff0000"/>
<rect x="279" y="105" width="1" height="55" fill="#32cd32"/>
<rect x="278" y="110" width="3" height="42" fill="#32cd32"/>
<rect x="283" y="135" width="1" height="28" fill="#ff0000"/>
<rect x="282" y="135" width="3" height="17" fill="#ff0000"/>
<rect x="287" y="134" width="1" height="44" fill="#32cd32"/>
<rect x="286" y="135" width="3" height="30" fill="#32cd32"/>
<rect x="291" y="162" width="1" height="26" fill="#32cd32"/>
<rect x="290" y="165" width="3" height="7" fill="#32cd32"/>
<rect x="295" y="168" width="1" height="4" fill="#32cd32"/>
<rect x="294" y="170" width="3" height="2" fill="#32cd32"/>
<rect x="299" y="153" width="1" height="24" fill="#ff0000"/>
<rect x="298" y="161" width="3" height="10" fill="#ff0000"/>
<rect x="303" y="153" width="1" height="35" fill="#32cd32"/>
<rect x="302" y="161" width="3" height="19" fill="#32cd32"/>
<rect x="307" y="172" width="1" height="34" fill="#32cd32"/>
<rect x="306" y="180" width="3" height="21" fill="#32cd32"/>
<rect x="311" y="197" width="1" height="27" fill="#32cd32"/>
<rect x="310" y="200" width="3" height="22" fill="#32cd32"/>
<rect x="315" y="200" width="1" height="29" fill="#ff0000"/>
<rect x="314" y="202" width="3" height="20" fill="#ff0000"/>
<rect x="319" y="199" width="1" height="5" fill="#ff0000"/>
<rect x="318" y="201" width="3" height="3" fill="#ff0000"/>
<rect x="323" y="183" width="1" height="23" fill="#ff0000"/>
<rect x="322" y="195" width="3" height="7" fill="#ff0000"/>
<rect x="327" y="184" width="1" height="37" fill="#32cd32"/>
<rect x="326" y="195" width="3" height="22" fill="#32cd32"/>
<rect x="331" y="214" width="1" height="24" fill="#32cd32"/>
<rect x="330" y="216" width="3" height="17" fill="#32cd32"/>
<rect x="335" y="220" width="1" height="22" fill="#ff0000"/>
<rect x="334" y="228" width="3" height="5" fill="#ff0000"/>
<rect x="339" y="221" width="1" height="32" fill="#32cd32"/>
<rect x="338" y="228" width="3" height="21" fill="#32cd32"/>
<rect x="343" y="248" width="1" height="4" fill="#ff0000"/>
<rect x="342" y="250" width="3" height="1" fill="#ff0000"/>
<rect x="347" y="229" width="1" height="27" fill="#32cd32"/>
<rect x="346" y="250" width="3" height="5" fill="#32cd32"/>
<rect x="351" y="247" width="1" height="16" fill="#32cd32"/>
<rect x="350" y="252" width="3" height="3" fill="#32cd32"/>
<rect x="355" y="252" width="1" height="22" fill="#32cd32"/>
<rect x="354" y="254" width="3" height="11" fill="#32cd32"/>
<rect x="359" y="260" width="1" height="19" fill="#32cd32"/>
<rect x="358" y="264" width="3" height="15" fill="#32cd32"/>
<rect x="363" y="276" width="1" height="32" fill="#32cd32"/>
<rect x="362" y="278" width="3" height="28" fill="#32cd32"/>
<rect x="367" y="291" width="1" height="15" fill="#ff0000"/>
<rect x="366" y="293" width="3" height="13" fill="#ff0000"/>
<rect x="371" y="284" width="1" height="22" fill="#ff0000"/>
<rect x="370" y="291" width="3" height="3" fill="#ff0000"/>
<rect x="375" y="279" width="1" height="53" fill="#32cd32"/>
<rect x="374" y="291" width="3" height="11" fill="#32cd32"/>
<rect x="379" y="278" width="1" height="39" fill="#32cd32"/>
<rect x="378" y="301" width="3" height="11" fill="#32cd32"/>
<rect x="383" y="304" width="1" height="18" fill="#32cd32"/>
<rect x="382" y="309" width="3" height="10" fill="#32cd32"/>
<rect x="387" y="318" width="1" height="46" fill="#32cd32"/>
<rect x="386" y="318" width="3" height="46" fill="#32cd32"/>
<rect x="391" y="352" width="1" height="10" fill="#ff0000"/>
<rect x="390" y="353" width="3" height="9" fill="#ff0000"/>
<rect x="395" y="335" width="1" height="24" fill="#ff0000"/>
<rect x="394" y="338" width="3" height="16" fill="#ff0000"/>
<rect x="399" y="301" width="1" height="42" fill="#ff0000"/>
<rect x="398" y="302" width="3" height="37" fill="#ff0000"/>
<rect x="403" y="273" width="1" height="33" fill="#ff0000"/>
<rect x="402" y="280" width="3" height="22" fill="#ff0000"/>
<rect x="407" y="271" width="1" height="26" fill="#32cd32"/>
<rect x="406" y="280" width="3" height="12" fill="#32cd32"/>
<rect x="411" y="273" width="1" height="26" fill="#ff0000"/>
<rect x="410" y="280" width="3" height="12" fill="#ff0000"/>
<rect x="415" y="278" width="1" height="7" fill="#ff0000"/>
<rect x="414" y="281" width="3" height="4" fill="#ff0000"/>
<rect x="419" y="276" width="1" height="28" fill="#32cd32"/>
<rect x="418" y="282" width="3" height="17" fill="#32cd32"/>
<rect x="423" y="295" width="1" height="23" fill="#32cd32"/>
<rect x="422" y="297" width="3" height="15" fill="#32cd32"/>
<rect x="427" y="276" width="1" height="42" fill="#ff0000"/>
<rect x="426" y="281" width="3" height="31" fill="#ff0000"/>
<rect x="431" y="253" width="1" height="39" fill="#ff0000"/>
<rect x="430" y="277" width="3" height="5" fill="#ff0000"/>
<rect x="435" y="274" width="1" height="24" fill="#32cd32"/>
<rect x="434" y="277" width="3" height="19" fill="#32cd32"/>
<rect x="439" y="299" width="1" height="11" fill="#32cd32"/>
<rect x="438" y="300" width="3" height="6" fill="#32cd32"/>
<rect x="443" y="300" width="1" height="23" fill="#32cd32"/>
<rect x="442" y="305" width="3" height="5" fill="#32cd32"/>
<rect x="447" y="286" width="1" height="29" fill="#ff0000"/>
<rect x="446" y="290" width="3" height="18" fill="#ff0000"/>
<rect x="451" y="255" width="1" height="48" fill="#ff0000"/>
<rect x="450" y="259" width="3" height="32" fill="#ff0000"/>
<rect x="455" y="240" width="1" height="28" fill="#ff0000"/>
<rect x="454" y="250" width="3" height="9" fill="#ff0000"/>
<rect x="459" y="243" width="1" height="15" fill="#32cd32"/>
<rect x="458" y="250" width="3" height="2" fill="#32cd32"/>
<rect x="463" y="246" width="1" height="6" fill="#000000"/>
<rect x="462" y="250" width="3" height="1" fill="#000000"/>
<rect x="467" y="243" width="1" height="20" fill="#ff0000"/>
<rect x="466" y="248" width="3" height="3" fill="#ff0000"/>
<rect x="471" y="234" width="1" height="23" fill="#32cd32"/>
<rect x="470" y="247" width="3" height="3" fill="#32cd32"/>
<rect x="475" y="230" width="1" height="30" fill="#ff0000"/>
<rect x="474" y="237" width="3" height="14" fill="#ff0000"/>
<rect x="479" y="228" width="1" height="17" fill="#32cd32"/>
<rect x="478" y="237" width="3" height="5" fill="#32cd32"/>
<rect x="483" y="227" width="1" height="18" fill="#ff0000"/>
<rect x="482" y="231" width="3" height="11" fill="#ff0000"/>
<rect x="487" y="230" width="1" height="4" fill="#ff0000"/>
<rect x="486" y="232" width="3" height="2" fill="#ff0000"/>
<rect x="491" y="228" width="1" height="46" fill="#32cd32"/>
<rect x="490" y="232" width="3" height="36" fill="#32cd32"/>
<rect x="495" y="241" width="1" height="32" fill="#ff0000"/>
<rect x="494" y="246" width="3" height="22" fill="#ff0000"/>
<rect x="499" y="230" width="1" height="29" fill="#32cd32"/>
<rect x="498" y="246" width="3" height="10" fill="#32cd32"/>
<rect x="503" y="255" width="1" height="37" fill="#32cd32"/>
<rect x="502" y="255" width="3" height="29" fill="#32cd32"/>
<rect x="507" y="271" width="1" height="29" fill="#ff0000"/>
<rect x="506" y="272" width="3" height="12" fill="#ff0000"/>
<rect x="511" y="272" width="1" height="7" fill="#ff0000"/>
<rect x="510" y="274" width="3" height="2" fill="#ff0000"/>
<rect x="515" y="264" width="1" height="26" fill="#ff0000"/>
<rect x="514" y="274" width="3" height="2" fill="#ff0000"/>
<rect x="519" y="258" width="1" height="30" fill="#ff0000"/>
<rect x="518" y="260" width="3" height="14" fill="#ff0000"/>
<rect x="523" y="220" width="1" height="46" fill="#ff0000"/>
<rect x="522" y="225" width="3" height="35" fill="#ff0000"/>
<rect x="527" y="215" width="1" height="14" fill="#ff0000"/>
<rect x="526" y="226" width="3" height="2" fill="#ff0000"/>
<rect x="531" y="220" width="1" height="47" fill="#32cd32"/>
<rect x="530" y="227" width="3" height="35" fill="#32cd32"/>
<rect x="535" y="254" width="1" height="8" fill="#ff0000"/>
<rect x="534" y="257" width="3" height="3" fill="#ff0000"/>
<rect x="539" y="252" width="1" height="15" fill="#32cd32"/>
<rect x="538" y="257" width="3" height="3" fill="#32cd32"/>
<rect x="543" y="251" width="1" height="29" fill="#32cd32"/>
<rect x="542" y="259" width="3" height="13" fill="#32cd32"/>
<rect x="547" y="246" width="1" height="31" fill="#ff0000"/>
<rect x="546" y="257" width="3" height="15" fill="#ff0000"/>
<rect x="551" y="228" width="1" height="36" fill="#32cd32"/>
<rect x="550" y="257" width="3" height="2" fill="#32cd32"/>
<rect x="555" y="257" width="1" height="21" fill="#32cd32"/>
<rect x="554" y="257" width="3" height="20" fill="#32cd32"/>
<rect x="559" y="271" width="1" height="8" fill="#ff0000"/>
<rect x="558" y="271" width="3" height="7" fill="#ff0000"/>
<rect x="563" y="271" width="1" height="47" fill="#32cd32"/>
<rect x="562" y="271" width="3" height="17" fill="#32cd32"/>
<rect x="567" y="276" width="1" height="28" fill="#ff0000"/>
<rect x="566" y="285" width="3" height="3" fill="#ff0000"/>
<rect x="571" y="274" width="1" height="42" fill="#32cd32"/>
<rect x="570" y="285" width="3" height="19" fill="#32cd32"/>
<rect x="575" y="303" width="1" height="48" fill="#32cd32"/>
<rect x="574" y="303" width="3" height="42" fill="#32cd32"/>
<rect x="579" y="339" width="1" height="39" fill="#32cd32"/>
<rect x="578" y="345" width="3" height="26" fill="#32cd32"/>
<rect x="583" y="364" width="1" height="5" fill="#ff0000"/>
<rect x="582" y="364" width="3" height="1" fill="#ff0000"/>
<rect x="587" y="324" width="1" height="42" fill="#ff0000"/>
<rect x="586" y="329" width="3" height="35" fill="#ff0000"/>
<rect x="591" y="294" width="1" height="52" fill="#ff0000"/>
<rect x="590" y="297" width="3" height="33" fill="#ff0000"/>
<rect x="595" y="286" width="1" height="22" fill="#32cd32"/>
<rect x="594" y="297" width="3" height="7" fill="#32cd32"/>
<rect x="599" y="280" width="1" height="28" fill="#ff0000"/>
<rect x="598" y="293" width="3" height="11" fill="#ff0000"/>
<rect x="603" y="288" width="1" height="49" fill="#32cd32"/>
<rect x="602" y="293" width="3" height="33" fill="#32cd32"/>
<rect x="607" y="320" width="1" height="5" fill="#32cd32"/>
<rect x="606" y="322" width="3" height="2" fill="#32cd32"/>
<rect x="611" y="297" width="1" height="34" fill="#ff0000"/>
<rect x="610" y="300" width="3" height="24" fill="#ff0000"/>
<rect x="615" y="290" width="1" height="22" fill="#ff0000"/>
<rect x="614" y="291" width="3" height="9" fill="#ff0000"/>
<rect x="619" y="267" width="1" height="27" fill="#ff0000"/>
<rect x="618" y="276" width="3" height="15" fill="#ff0000"/>
<rect x="623" y="240" width="1" height="51" fill="#32cd32"/>
<rect x="622" y="276" width="3" height="9" fill="#32cd32"/>
<rect x="627" y="272" width="1" height="38" fill="#32cd32"/>
<rect x="626" y="283" width="3" height="19" fill="#32cd32"/>
<rect x="631" y="289" width="1" height="12" fill="#ff0000"/>
<rect x="630" y="292" width="3" height="7" fill="#ff0000"/>
<rect x="635" y="291" width="1" height="30" fill="#32cd32"/>
<rect x="634" y="292" width="3" height="7" fill="#32cd32"/>
<rect x="639" y="286" width="1" height="24" fill="#ff0000"/>
<rect x="638" y="291" width="3" height="7" fill="#ff0000"/>
<rect x="643" y="261" width="1" height="32" fill="#ff0000"/>
<rect x="642" y="269" width="3" height="22" fill="#ff0000"/>
<rect x="647" y="256" width="1" height="34" fill="#32cd32"/>
<rect x="646" y="268" width="3" height="4" fill="#32cd32"/>
<rect x="651" y="251" width="1" height="32" fill="#32cd32"/>
<rect x="650" y="271" width="3" height="2" fill="#32cd32"/>
<rect x="655" y="277" width="1" height="5" fill="#32cd32"/>
<rect x="654" y="278" width="3" height="1" fill="#32cd32"/>
<rect x="659" y="254" width="1" height="28" fill="#ff0000"/>
<rect x="658" y="273" width="3" height="6" fill="#ff0000"/>
<rect x="663" y="249" width="1" height="26" fill="#ff0000"/>
<rect x="662" y="252" width="3" height="21" fill="#ff0000"/>
<rect x="667" y="224" width="1" height="33" fill="#ff0000"/>
<rect x="666" y="251" width="3" height="2" fill="#ff0000"/>
<rect x="671" y="251" width="1" height="66" fill="#32cd32"/>
<rect x="670" y="251" width="3" height="34" fill="#32cd32"/>
<rect x="675" y="247" width="1" height="47" fill="#ff0000"/>
<rect x="674" y="249" width="3" height="36" fill="#ff0000"/>
<rect x="679" y="271" width="1" height="9" fill="#ff0000"/>
<rect x="678" y="272" width="3" height="4" fill="#ff0000"/>
<rect x="683" y="232" width="1" height="49" fill="#ff0000"/>
<rect x="682" y="236" width="3" height="37" fill="#ff0000"/>
<rect x="687" y="222" width="1" height="25" fill="#ff0000"/>
<rect x="686" y="235" width="3" height="1" fill="#ff0000"/>
<rect x="691" y="213" width="1" height="32" fill="#ff0000"/>
<rect x="690" y="220" width="3" height="17" fill="#ff0000"/>
<rect x="695" y="194" width="1" height="35" fill="#ff0000"/>
<rect x="694" y="199" width="3" height="22" fill="#ff0000"/>
<rect x="699" y="178" width="1" height="39" fill="#ff0000"/>
<rect x="698" y="182" width="3" height="18" fill="#ff0000"/>
<rect x="703" y="171" width="1" height="20" fill="#ff0000"/>
<rect x="702" y="171" width="3" height="12" fill="#ff0000"/>
<rect x="707" y="148" width="1" height="65" fill="#32cd32"/>
<rect x="706" y="171" width="3" height="33" fill="#32cd32"/>
<rect x="711" y="193" width="1" height="51" fill="#32cd32"/>
<rect x="710" y="203" width="3" height="30" fill="#32cd32"/>
<rect x="715" y="199" width="1" height="35" fill="#ff0000"/>
<rect x="714" y="209" width="3" height="24" fill="#ff0000"/>
<rect x="719" y="184" width="1" height="40" fill="#ff0000"/>
<rect x="718" y="185" width="3" height="23" fill="#ff0000"/>
<rect x="723" y="184" width="1" height="36" fill="#32cd32"/>
<rect x="722" y="185" width="3" height="35" fill="#32cd32"/>
<rect x="727" y="217" width="1" height="6" fill="#ff0000"/>
<rect x="726" y="218" width="3" height="4" fill="#ff0000"/>
<rect x="731" y="218" width="1" height="54" fill="#32cd32"/>
<rect x="730" y="218" width="3" height="49" fill="#32cd32"/>
<rect x="735" y="252" width="1" height="31" fill="#32cd32"/>
<rect x="734" y="266" width="3" height="5" fill="#32cd32"/>
<rect x="739" y="218" width="1" height="57" fill="#ff0000"/>
<rect x="738" y="222" width="3" height="48" fill="#ff0000"/>
<rect x="743" y="172" width="1" height="54" fill="#ff0000"/>
<rect x="742" y="178" width="3" height="44" fill="#ff0000"/>
<rect x="747" y="160" width="1" height="28" fill="#ff0000"/>
<rect x="746" y="165" width="3" height="14" fill="#ff0000"/>
<rect x="751" y="162" width="1" height="6" fill="#ff0000"/>
<rect x="750" y="164" width="3" height="2" fill="#ff0000"/>
<rect x="755" y="156" width="1" height="26" fill="#32cd32"/>
<rect x="754" y="164" width="3" height="7" fill="#32cd32"/>
<rect x="759" y="131" width="1" height="50" fill="#ff0000"/>
<rect x="758" y="139" width="3" height="33" fill="#ff0000"/>
<rect x="763" y="117" width="1" height="27" fill="#ff0000"/>
<rect x="762" y="121" width="3" height="18" fill="#ff0000"/>
<rect x="767" y="107" width="1" height="30" fill="#ff0000"/>
<rect x="766" y="115" width="3" height="6" fill="#ff0000"/>
<rect x="771" y="102" width="1" height="22" fill="#ff0000"/>
<rect x="770" y="110" width="3" height="6" fill="#ff0000"/>
<rect x="775" y="110" width="1" height="4" fill="#ff0000"/>
<rect x="774" y="112" width="3" height="2" fill="#ff0000"/>
<rect x="779" y="101" width="1" height="36" fill="#32cd32"/>
<rect x="778" y="112" width="3" height="11" fill="#32cd32"/>
<rect x="783" y="108" width="1" height="34" fill="#ff0000"/>
<rect x="782" y="113" width="3" height="9" fill="#ff0000"/>
<rect x="787" y="103" width="1" height="21" fill="#32cd32"/>
<rect x="786" y="113" width="3" height="6" fill="#32cd32"/>
<rect x="791" y="108" width="1" height="27" fill="#32cd32"/>
<rect x="790" y="119" width="3" height="6" fill="#32cd32"/>
<rect x="795" y="108" width="1" height="26" fill="#ff0000"/>
<rect x="794" y="122" width="3" height="3" fill="#ff0000"/>
<rect x="799" y="123" width="1" height="5" fill="#32cd32"/>
<rect x="798" y="126" width="3" height="2" fill="#32cd32"/>
<rect x="803" y="93" width="1" height="35" fill="#ff0000"/>
<rect x="802" y="99" width="3" height="29" fill="#ff0000"/>
<rect x="807" y="42" width="1" height="62" fill="#ff0000"/>
<rect x="806" y="79" width="3" height="21" fill="#ff0000"/>
<rect x="811" y="75" width="1" height="53" fill="#32cd32"/>
<rect x="810" y="78" width="3" height="40" fill="#32cd32"/>
<rect x="815" y="114" width="1" height="23" fill="#32cd32"/>
<rect x="814" y="117" width="3" height="14" fill="#32cd32"/>
<rect x="819" y="124" width="1" height="33" fill="#32cd32"/>
<rect x="818" y="130" width="3" height="9" fill="#32cd32"/>
<rect x="823" y="138" width="1" height="8" fill="#32cd32"/>
<rect x="822" y="138" width="3" height="8" fill="#32cd32"/>
<rect x="827" y="140" width="1" height="24" fill="#32cd32"/>
<rect x="826" y="146" width="3" height="16" fill="#32cd32"/>
<rect x="831" y="123" width="1" height="47" fill="#ff0000"/>
<rect x="830" y="142" width="3" height="20" fill="#ff0000"/>
<rect x="835" y="132" width="1" height="41" fill="#32cd32"/>
<rect x="834" y="142" width="3" height="2" fill="#32cd32"/>
<rect x="839" y="135" width="1" height="35" fill="#32cd32"/>
<rect x="838" y="142" width="3" height="24" fill="#32cd32"/>
<rect x="843" y="162" width="1" height="12" fill="#32cd32"/>
<rect x="842" y="165" width="3" height="7" fill="#32cd32"/>
<rect x="847" y="167" width="1" height="6" fill="#32cd32"/>
<rect x="846" y="167" width="3" height="5" fill="#32cd32"/>
<rect x="851" y="170" width="1" height="27" fill="#32cd32"/>
<rect x="850" y="170" width="3" height="20" fill="#32cd32"/>
<rect x="855" y="169" width="1" height="27" fill="#ff0000"/>
<rect x="854" y="172" width="3" height="18" fill="#ff0000"/>
<rect x="859" y="141" width="1" height="42" fill="#ff0000"/>
<rect x="858" y="147" width="3" height="25" fill="#ff0000"/>
<rect x="863" y="140" width="1" height="49" fill="#32cd32"/>
<rect x="862" y="147" width="3" height="42" fill="#32cd32"/>
<rect x="867" y="183" width="1" height="66" fill="#32cd32"/>
<rect x="866" y="187" width="3" height="60" fill="#32cd32"/>
<rect x="871" y="244" width="1" height="6" fill="#32cd32"/>
<rect x="870" y="244" width="3" height="6" fill="#32cd32"/>
<rect x="875" y="249" width="1" height="48" fill="#32cd32"/>
<rect x="874" y="249" width="3" height="28" fill="#32cd32"/>
<rect x="879" y="251" width="1" height="54" fill="#32cd32"/>
<rect x="878" y="276" width="3" height="18" fill="#32cd32"/>
<rect x="883" y="269" width="1" height="44" fill="#32cd32"/>
<rect x="882" y="293" width="3" height="11" fill="#32cd32"/>
<rect x="887" y="283" width="1" height="53" fill="#32cd32"/>
<rect x="886" y="303" width="3" height="7" fill="#32cd32"/>
<rect x="891" y="275" width="1" height="49" fill="#32cd32"/>
<rect x="890" y="308" width="3" height="15" fill="#32cd32"/>
<rect x="895" y="325" width="1" height="7" fill="#32cd32"/>
<rect x="894" y="328" width="3" height="4" fill="#32cd32"/>
<rect x="899" y="322" width="1" height="26" fill="#32cd32"/>
<rect x="898" y="330" width="3" height="8" fill="#32cd32"/>
<rect x="903" y="290" width="1" height="47" fill="#ff0000"/>
<rect x="902" y="313" width="3" height="24" fill="#ff0000"/>
<rect x="907" y="233" width="1" height="87" fill="#ff0000"/>
<rect x="906" y="240" width="3" height="73" fill="#ff0000"/>
<rect x="911" y="233" width="1" height="92" fill="#32cd32"/>
<rect x="910" y="240" width="3" height="65" fill="#32cd32"/>
<line x1="3" y1="478.5" x2="1149" y2="478.5" stroke="#c0c0c0" stroke-width="1" stroke-dasharray="3,3"/>
<line x1="3" y1="504.5" x2="1149" y2="504.5" stroke="#c0c0c0" stroke-width="1" stroke-dasharray="3,3"/>
<rect x="2" y="418" width="3" height="9" fill="#c0c0c0"/>
<rect x="6" y="418" width="3" height="8" fill="#c0c0c0"/>
<rect x="10" y="418" width="3" height="8" fill="#c0c0c0"/>
<rect x="14" y="418" width="3" height="11" fill="#c0c0c0"/>
<rect x="18" y="418" width="3" height="13" fill="#c0c0c0"/>
<rect x="22" y="418" width="3" height="17" fill="#c0c0c0"/>
<rect x="26" y="418" width="3" height="21" fill="#c0c0c0"/>
<rect x="30" y="418" width="3" height="23" fill="#c0c0c0"/>
<rect x="34" y="418" width="3" height="22" fill="#c0c0c0"/>
<rect x="38" y="418" width="3" height="21" fill="#c0c0c0"/>
<rect x="42" y="418" width="3" height="18" fill="#c0c0c0"/>
<rect x="46" y="418" width="3" height="17" fill="#c0c0c0"/>
<rect x="50" y="418" width="3" height="14" fill="#c0c0c0"/>
<rect x="54" y="418" width="3" height="12" fill="#c0c0c0"/>
<rect x="58" y="418" width="3" height="10" fill="#c0c0c0"/>
<rect x="62" y="418" width="3" height="8" fill="#c0c0c0"/>
<rect x="66" y="418" width="3" height="5" fill="#c0c0c0"/>
<rect x="70" y="418" width="3" height="2" fill="#c0c0c0"/>
<rect x="74" y="415" width="3" height="3" fill="#c0c0c0"/>
<rect x="78" y="412" width="3" height="6" fill="#c0c0c0"/>
<rect x="82" y="410" width="3" height="8" fill="#c0c0c0"/>
<rect x="86" y="410" width="3" height="8" fill="#c0c0c0"/>
<rect x="90" y="411" width="3" height="7" fill="#c0c0c0"/>
<rect x="94" y="411" width="3" height="7" fill="#c0c0c0"/>
<rect x="98" y="412" width="3" height="6" fill="#c0c0c0"/>
<rect x="102" y="413" width="3" height="5" fill="#c0c0c0"/>
<rect x="106" y="413" width="3" height="5" fill="#c0c0c0"/>
<rect x="110" y="415" width="3" height="3" fill="#c0c0c0"/>
<rect x="114" y="415" width="3" height="3" fill="#c0c0c0"/>
<rect x="118" y="417" width="3" height="1" fill="#c0c0c0"/>
<rect x="122" y="418" width="3" height="1" fill="#c0c0c0"/>
<rect x="126" y="418" width="3" height="3" fill="#c0c0c0"/>
<rect x="130" y="418" width="3" height="5" fill="#c0c0c0"/>
<rect x="134" y="418" width="3" height="7" fill="#c0c0c0"/>
<rect x="138" y="418" width="3" height="8" fill="#c0c0c0"/>
<rect x="142" y="418" width="3" height="7" fill="#c0c0c0"/>
<rect x="146" y="418" width="3" height="8" fill="#c0c0c0"/>
<rect x="150" y="418" width="3" height="8" fill="#c0c0c0"/>
<rect x="154" y="418" width="3" height="7" fill="#c0c0c0"/>
<rect x="158" y="418" width="3" height="8" fill="#c0c0c0"/>
<rect x="162" y="418" width="3" height="10" fill="#c0c0c0"/>
<rect x="166" y="418" width="3" height="10" fill="#c0c0c0"/>
<rect x="170" y="418" width="3" height="9" fill="#c0c0c0"/>
<rect x="174" y="418" width="3" height="8" fill="#c0c0c0"/>
<rect x="178" y="418" width="3" height="7" fill="#c0c0c0"/>
<rect x="182" y="418" width="3" height="5" fill="#c0c0c0"/>
<rect x="186" y="418" width="3" height="5" fill="#c0c0c0"/>
<rect x="190" y="418" width="3" height="3" fill="#c0c0c0"/>
<rect x="194" y="418" width="3" height="2" fill="#c0c0c0"/>
<rect x="198" y="418" width="3" height="1" fill="#c0c0c0"/>
<rect x="202" y="417" width="3" height="1" fill="#c0c0c0"/>
<rect x="206" y="416" width="3" height="2" fill="#c0c0c0"/>
<rect x="210" y="414" width="3" height="4" fill="#c0c0c0"/>
<rect x="214" y="412" width="3" height="6" fill="#c0c0c0"/>
<rect x="218" y="410" width="3" height="8" fill="#c0c0c0"/>
<rect x="222" y="408" width="3" height="10" fill="#c0c0c0"/>
<rect x="226" y="407" width="3" height="11" fill="#c0c0c0"/>
<rect x="230" y="405" width="3" height="13" fill="#c0c0c0"/>
<rect x="234" y="402" width="3" height="16" fill="#c0c0c0"/>
<rect x="238" y="401" width="3" height="17" fill="#c0c0c0"/>
<rect x="242" y="401" width="3" height="17" fill="#c0c0c0"/>
<rect x="246" y="401" width="3" height="17" fill="#c0c0c0"/>
<rect x="250" y="401" width="3" height="17" fill="#c0c0c0"/>
<rect x="254" y="400" width="3" height="18" fill="#c0c0c0"/>
<rect x="258" y="400" width="3" height="18" fill="#c0c0c0"/>
<rect x="262" y="399" width="3" height="19" fill="#c0c0c0"/>
<rect x="266" y="399" width="3" height="19" fill="#c0c0c0"/>
<rect x="270" y="399" width="3" height="19" fill="#c0c0c0"/>
<rect x="274" y="399" width="3" height="19" fill="#c0c0c0"/>
<rect x="278" y="402" width="3" height="16" fill="#c0c0c0"/>
<rect x="282" y="404" width="3" height="14" fill="#c0c0c0"/>
<rect x="286" y="407" width="3" height="11" fill="#c0c0c0"/>
<rect x="290" y="410" width="3" height="8" fill="#c0c0c0"/>
<rect x="294" y="412" width="3" height="6" fill="#c0c0c0"/>
<rect x="298" y="413" width="3" height="5" fill="#c0c0c0"/>
<rect x="302" y="416" width="3" height="2" fill="#c0c0c0"/>
<rect x="306" y="418" width="3" height="1" fill="#c0c0c0"/>
<rect x="310" y="418" width="3" height="4" fill="#c0c0c0"/>
<rect x="314" y="418" width="3" height="6" fill="#c0c0c0"/>
<rect x="318" y="418" width="3" height="7" fill="#c0c0c0"/>
<rect x="322" y="418" width="3" height="7" fill="#c0c0c0"/>
<rect x="326" y="418" width="3" height="9" fill="#c0c0c0"/>
<rect x="330" y="418" width="3" height="11" fill="#c0c0c0"/>
<rect x="334" y="418" width="3" height="12" fill="#c0c0c0"/>
<rect x="338" y="418" width="3" height="14" fill="#c0c0c0"/>
<rect x="342" y="418" width="3" height="15" fill="#c0c0c0"/>
<rect x="346" y="418" width="3" height="17" fill="#c0c0c0"/>
<rect x="350" y="418" width="3" height="17" fill="#c0c0c0"/>
<rect x="354" y="418" width="3" height="18" fill="#c0c0c0"/>
<rect x="358" y="418" width="3" height="20" fill="#c0c0c0"/>
<rect x="362" y="418" width="3" height="22" fill="#c0c0c0"/>
<rect x="366" y="418" width="3" height="23" fill="#c0c0c0"/>
<rect x="370" y="418" width="3" height="23" fill="#c0c0c0"/>
<rect x="374" y="418" width="3" height="24" fill="#c0c0c0"/>
<rect x="378" y="418" width="3" height="25" fill="#c0c0c0"/>
<rect x="382" y="418" width="3" height="26" fill="#c0c0c0"/>
<rect x="386" y="418" width="3" height="29" fill="#c0c0c0"/>
<rect x="390" y="418" width="3" height="30" fill="#c0c0c0"/>
<rect x="394" y="418" width="3" height="30" fill="#c0c0c0"/>
<rect x="398" y="418" width="3" height="27" fill="#c0c0c0"/>
<rect x="402" y="418" width="3" height="23" fill="#c0c0c0"/>
<rect x="406" y="418" width="3" height="21" fill="#c0c0c0"/>
<rect x="410" y="418" width="3" height="18" fill="#c0c0c0"/>
<rect x="414" y="418" width="3" height="16" fill="#c0c0c0"/>
<rect x="418" y="418" width="3" height="15" fill="#c0c0c0"/>
<rect x="422" y="418" width="3" height="15" fill="#c0c0c0"/>
<rect x="426" y="418" width="3" height="13" fill="#c0c0c0"/>
<rect x="430" y="418" width="3" height="11" fill="#c0c0c0"/>
<rect x="434" y="418" width="3" height="10" fill="#c0c0c0"/>
<rect x="438" y="418" width="3" height="10" fill="#c0c0c0"/>
<rect x="442" y="418" width="3" height="10" fill="#c0c0c0"/>
<rect x="446" y="418" width="3" height="9" fill="#c0c0c0"/>
<rect x="450" y="418" width="3" height="6" fill="#c0c0c0"/>
<rect x="454" y="418" width="3" height="3" fill="#c0c0c0"/>
<rect x="458" y="418" width="3" height="1" fill="#c0c0c0"/>
<rect x="462" y="417" width="3" height="1" fill="#c0c0c0"/>
<rect x="466" y="416" width="3" height="2" fill="#c0c0c0"/>
<rect x="470" y="415" width="3" height="3" fill="#c0c0c0"/>
<rect x="474" y="413" width="3" height="5" fill="#c0c0c0"/>
<rect x="478" y="412" width="3" height="6" fill="#c0c0c0"/>
<rect x="482" y="411" width="3" height="7" fill="#c0c0c0"/>
<rect x="486" y="410" width="3" height="8" fill="#c0c0c0"/>
<rect x="490" y="412" width="3" height="6" fill="#c0c0c0"/>
<rect x="494" y="412" width="3" height="6" fill="#c0c0c0"/>
<rect x="498" y="412" width="3" height="6" fill="#c0c0c0"/>
<rect x="502" y="415" width="3" height="3" fill="#c0c0c0"/>
<rect x="506" y="416" width="3" height="2" fill="#c0c0c0"/>
<rect x="510" y="417" width="3" height="1" fill="#c0c0c0"/>
<rect x="514" y="417" width="3" height="1" fill="#c0c0c0"/>
<rect x="518" y="417" width="3" height="1" fill="#c0c0c0"/>
<rect x="522" y="415" width="3" height="3" fill="#c0c0c0"/>
<rect x="526" y="414" width="3" height="4" fill="#c0c0c0"/>
<rect x="530" y="414" width="3" height="4" fill="#c0c0c0"/>
<rect x="534" y="415" width="3" height="3" fill="#c0c0c0"/>
<rect x="538" y="415" width="3" height="3" fill="#c0c0c0"/>
<rect x="542" y="416" width="3" height="2" fill="#c0c0c0"/>
<rect x="546" y="417" width="3" height="1" fill="#c0c0c0"/>
<rect x="550" y="417" width="3" height="1" fill="#c0c0c0"/>
<rect x="554" y="417" width="3" height="1" fill="#c0c0c0"/>
<rect x="558" y="418" width="3" height="1" fill="#c0c0c0"/>
<rect x="562" y="418" width="3" height="2" fill="#c0c0c0"/>
<rect x="566" y="418" width="3" height="3" fill="#c0c0c0"/>
<rect x="570" y="418" width="3" height="5" fill="#c0c0c0"/>
<rect x="574" y="418" width="3" height="8" fill="#c0c0c0"/>
<rect x="578" y="418" width="3" height="13" fill="#c0c0c0"/>
<rect x="582" y="418" width="3" height="16" fill="#c0c0c0"/>
<rect x="586" y="418" width="3" height="16" fill="#c0c0c0"/>
<rect x="590" y="418" width="3" height="14" fill="#c0c0c0"/>
<rect x="594" y="418" width="3" height="12" fill="#c0c0c0"/>
<rect x="598" y="418" width="3" height="10" fill="#c0c0c0"/>
<rect x="602" y="418" width="3" height="11" fill="#c0c0c0"/>
<rect x="606" y="418" width="3" height="11" fill="#c0c0c0"/>
<rect x="610" y="418" width="3" height="9" fill="#c0c0c0"/>
<rect x="614" y="418" width="3" height="8" fill="#c0c0c0"/>
<rect x="618" y="418" width="3" height="5" fill="#c0c0c0"/>
<rect x="622" y="418" width="3" height="4" fill="#c0c0c0"/>
<rect x="626" y="418" width="3" height="4" fill="#c0c0c0"/>
<rect x="630" y="418" width="3" height="3" fill="#c0c0c0"/>
<rect x="634" y="418" width="3" height="3" fill="#c0c0c0"/>
<rect x="638" y="418" width="3" height="2" fill="#c0c0c0"/>
<rect x="642" y="418" width="3" height="1" fill="#c0c0c0"/>
<rect x="646" y="417" width="3" height="1" fill="#c0c0c0"/>
<rect x="650" y="416" width="3" height="2" fill="#c0c0c0"/>
<rect x="654" y="416" width="3" height="2" fill="#c0c0c0"/>
<rect x="658" y="415" width="3" height="3" fill="#c0c0c0"/>
<rect x="662" y="414" width="3" height="4" fill="#c0c0c0"/>
<rect x="666" y="412" width="3" height="6" fill="#c0c0c0"/>
<rect x="670" y="413" width="3" height="5" fill="#c0c0c0"/>
<rect x="674" y="412" width="3" height="6" fill="#c0c0c0"/>
<rect x="678" y="413" width="3" height="5" fill="#c0c0c0"/>
<rect x="682" y="411" width="3" height="7" fill="#c0c0c0"/>
<rect x="686" y="410" width="3" height="8" fill="#c0c0c0"/>
<rect x="690" y="408" width="3" height="10" fill="#c0c0c0"/>
<rect x="694" y="405" width="3" height="13" fill="#c0c0c0"/>
<rect x="698" y="402" width="3" height="16" fill="#c0c0c0"/>
<rect x="702" y="400" width="3" height="18" fill="#c0c0c0"/>
<rect x="706" y="400" width="3" height="18" fill="#c0c0c0"/>
<rect x="710" y="402" width="3" height="16" fill="#c0c0c0"/>
<rect x="714" y="402" width="3" height="16" fill="#c0c0c0"/>
<rect x="718" y="401" width="3" height="17" fill="#c0c0c0"/>
<rect x="722" y="402" width="3" height="16" fill="#c0c0c0"/>
<rect x="726" y="404" width="3" height="14" fill="#c0c0c0"/>
<rect x="730" y="408" width="3" height="10" fill="#c0c0c0"/>
<rect x="734" y="411" width="3" height="7" fill="#c0c0c0"/>
<rect x="738" y="411" width="3" height="7" fill="#c0c0c0"/>
<rect x="742" y="409" width="3" height="9" fill="#c0c0c0"/>
<rect x="746" y="406" width="3" height="12" fill="#c0c0c0"/>
<rect x="750" y="404" width="3" height="14" fill="#c0c0c0"/>
<rect x="754" y="403" width="3" height="15" fill="#c0c0c0"/>
<rect x="758" y="400" width="3" height="18" fill="#c0c0c0"/>
<rect x="762" y="398" width="3" height="20" fill="#c0c0c0"/>
<rect x="766" y="395" width="3" height="23" fill="#c0c0c0"/>
<rect x="770" y="394" width="3" height="24" fill="#c0c0c0"/>
<rect x="774" y="393" width="3" height="25" fill="#c0c0c0"/>
<rect x="778" y="393" width="3" height="25" fill="#c0c0c0"/>
<rect x="782" y="392" width="3" height="26" fill="#c0c0c0"/>
<rect x="786" y="393" width="3" height="25" fill="#c0c0c0"/>
<rect x="790" y="394" width="3" height="24" fill="#c0c0c0"/>
<rect x="794" y="395" width="3" height="23" fill="#c0c0c0"/>
<rect x="798" y="396" width="3" height="22" fill="#c0c0c0"/>
<rect x="802" y="396" width="3" height="22" fill="#c0c0c0"/>
<rect x="806" y="395" width="3" height="23" fill="#c0c0c0"/>
<rect x="810" y="396" width="3" height="22" fill="#c0c0c0"/>
<rect x="814" y="398" width="3" height="20" fill="#c0c0c0"/>
<rect x="818" y="401" width="3" height="17" fill="#c0c0c0"/>
<rect x="822" y="403" width="3" height="15" fill="#c0c0c0"/>
<rect x="826" y="406" width="3" height="12" fill="#c0c0c0"/>
<rect x="830" y="408" width="3" height="10" fill="#c0c0c0"/>
<rect x="834" y="409" width="3" height="9" fill="#c0c0c0"/>
<rect x="838" y="411" width="3" height="7" fill="#c0c0c0"/>
<rect x="842" y="414" width="3" height="4" fill="#c0c0c0"/>
<rect x="846" y="416" width="3" height="2" fill="#c0c0c0"/>
<rect x="850" y="418" width="3" height="1" fill="#c0c0c0"/>
<rect x="854" y="418" width="3" height="1" fill="#c0c0c0"/>
<rect x="858" y="418" width="3" height="1" fill="#c0c0c0"/>
<rect x="862" y="418" width="3" height="2" fill="#c0c0c0"/>
<rect x="866" y="418" width="3" height="7" fill="#c0c0c0"/>
<rect x="870" y="418" width="3" height="11" fill="#c0c0c0"/>
<rect x="874" y="418" width="3" height="15" fill="#c0c0c0"/>
<rect x="878" y="418" width="3" height="20" fill="#c0c0c0"/>
<rect x="882" y="418" width="3" height="23" fill="#c0c0c0"/>
<rect x="886" y="418" width="3" height="26" fill="#c0c0c0"/>
<rect x="890" y="418" width="3" height="29" fill="#c0c0c0"/>
<rect x="894" y="418" width="3" height="32" fill="#c0c0c0"/>
<rect x="898" y="418" width="3" height="33" fill="#c0c0c0"/>
<rect x="902" y="418" width="3" height="33" fill="#c0c0c0"/>
<rect x="906" y="418" width="3" height="28" fill="#c0c0c0"/>
<rect x="910" y="418" width="3" height="28" fill="#c0c0c0"/>
<path d="M3.5,429V430M4.5,428V429M5.5,428V429M6.5,428V429M7.5,428V429M8.5,428V429M9.5,428V429M10.5,428V429M11.5,428V429M12.5,428V429M13.5,428V429M14.5,428V429M15.5,428V429M16.5,428V429M17.5,428V429M18.5,428V429M19.5,428V429M20.5,428V429M21.5,428V429M22.5,428V429M23.5,429V430M24.5,429V430M25.5,429V430M26.5,429V430M27.5,430V431M28.5,430V431M29.5,430V431M30.5,431V432M31.5,431V432M32.5,432V433M33.5,432V433M34.5,432V433M35.5,433V434M36.5,433V434M37.5,433V434M38.5,434V435M39.5,434V435M40.5,434V435M41.5,435V436M42.5,435V436M43.5,435V436M44.5,435V436M45.5,436V437M46.5,436V437M47.5,436V437M48.5,436V437M49.5,436V437M50.5,436V437M51.5,437V438M52.5,436V437M53.5,436V437M54.5,436V437M55.5,436V437M56.5,436V437M57.5,436V437M58.5,436V437M59.5,436V437M60.5,435V436M61.5,435V436M62.5,434V435M63.5,434V435M64.5,434V435M65.5,433V434M66.5,433V434M67.5,432V433M68.5,432V433M69.5,431V432M70.5,430V431M71.5,430V431M72.5,429V430M73.5,429V430M74.5,428V429M75.5,427V428M76.5,427V428M77.5,426V427M78.5,425V426M79.5,425V426M80.5,424V425M81.5,423V424M82.5,423V424M83.5,422V423M84.5,421V422M85.5,421V422M86.5,420V421M87.5,419V420M88.5,419V420M89.5,418V419M90.5,418V419M91.5,417V418M92.5,417V418M93.5,416V417M94.5,416V417M95.5,415V416M96.5,415V416M97.5,415V416M98.5,414V415M99.5,414V415M100.5,414V415M101.5,413V414M102.5,413V414M103.5,413V414M104.5,413V414M105.5,412V413M106.5,412V413M107.5,412V413M108.5,412V413M109.5,412V413M110.5,412V413M111.5,412V413M112.5,412V413M113.5,412V413M114.5,412V413M115.5,412V413M116.5,412V413M117.5,413V414M118.5,413V414M119.5,413V414M120.5,413V414M121.5,414V415M122.5,414V415M123.5,414V415M124.5,414V415M125.5,415V416M126.5,415V416M127.5,415V416M128.5,416V417M129.5,416V417M130.5,416V417M131.5,417V418M132.5,417V418M133.5,417V418M134.5,418V419M135.5,418V419M136.5,418V419M137.5,419V420M138.5,419V420M139.5,419V420M140.5,420V421M141.5,420V421M142.5,421V422M143.5,421V422M144.5,421V422M145.5,421V422M146.5,422V423M147.5,422V423M148.5,422V423M149.5,423V424M150.5,423V424M151.5,423V424M152.5,424V425M153.5,424V425M154.5,424V425M155.5,424V425M156.5,424V425M157.5,425V426M158.5,425V426M159.5,425V426M160.5,425V426M161.5,425V426M162.5,425V426M163.5,426V427M164.5,426V427M165.5,426V427M166.5,426V427M167.5,426V427M168.5,426V427M169.5,426V427M170.5,426V427M171.5,426V427M172.5,426V427M173.5,426V427M174.5,426V427M175.5,426V427M176.5,426V427M177.5,426V427M178.5,426V427M179.5,426V427M180.5,426V427M181.5,426V427M182.5,426V427M183.5,426V427M184.5,426V427M185.5,426V427M186.5,426V427M187.5,426V427M188.5,426V427M189.5,425V426M190.5,425V426M191.5,425V426M192.5,425V426M193.5,425V426M194.5,425V426M195.5,425V426M196.5,424V425M197.5,424V425M198.5,424V425M199.5,424V425M200.5,423V424M201.5,423V424M202.5,423V424M203.5,422V423M204.5,422V423M205.5,422V423M206.5,421V422M207.5,421V422M208.5,421V422M209.5,421V422M210.5,420V421M211.5,420V421M212.5,420V421M213.5,419V420M214.5,419V420M215.5,418V419M216.5,418V419M217.5,418V419M218.5,417V418M219.5,417V418M220.5,416V417M221.5,416V417M222.5,416V417M223.5,415V416M224.5,415V416M225.5,414V415M226.5,414V415M227.5,414V415M228.5,413V414M229.5,413V414M230.5,412V413M231.5,412V413M232.5,412V413M233.5,411V412M234.5,411V412M235.5,410V411M236.5,410V411M237.5,409V410M238.5,409V410M239.5,408V409M240.5,408V409M241.5,407V408M242.5,407V408M243.5,407V408M244.5,406V407M245.5,406V407M246.5,406V407M247.5,405V406M248.5,405V406M249.5,405V406M250.5,404V405M251.5,404V405M252.5,404V405M253.5,403V404M254.5,403V404M255.5,403V404M256.5,403V404M257.5,402V403M258.5,402V403M259.5,402V403M260.5,402V403M261.5,401V402M262.5,401V402M263.5,401V402M264.5,401V402M265.5,401V402M266.5,400V401M267.5,400V401M268.5,400V401M269.5,400V401M270.5,400V401M271.5,400V401M272.5,400V401M273.5,400V401M274.5,400V401M275.5,400V401M276.5,400V401M277.5,400V401M278.5,400V401M279.5,400V401M280.5,400V401M281.5,400V401M282.5,400V401M283.5,400V401M284.5,400V401M285.5,401V402M286.5,401V402M287.5,401V402M288.5,401V402M289.5,401V402M290.5,402V403M291.5,402V403M292.5,402V403M293.5,403V404M294.5,403V404M295.5,403V404M296.5,404V405M297.5,404V405M298.5,405V406M299.5,405V406M300.5,405V406M301.5,406V407M302.5,406V407M303.5,407V408M304.5,407V408M305.5,408V409M306.5,408V409M307.5,409V410M308.5,410V411M309.5,410V411M310.5,411V412M311.5,412V413M312.5,412V413M313.5,413V414M314.5,413V414M315.5,414V415M316.5,414V415M317.5,415V416M318.5,416V417M319.5,416V417M320.5,417V418M321.5,417V418M322.5,418V419M323.5,418V419M324.5,419V420M325.5,419V420M326.5,420V421M327.5,420V421M328.5,421V422M329.5,421V422M330.5,422V423M331.5,422V423M332.5,422V423M333.5,423V424M334.5,423V424M335.5,424V425M336.5,424V425M337.5,425V426M338.5,425V426M339.5,426V427M340.5,426V427M341.5,426V427M342.5,427V428M343.5,427V428M344.5,428V429M345.5,428V429M346.5,428V429M347.5,429V430M348.5,429V430M349.5,429V430M350.5,430V431M351.5,430V431M352.5,430V431M353.5,431V432M354.5,431V432M355.5,431V432M356.5,432V433M357.5,432V433M358.5,432V433M359.5,433V434M360.5,433V434M361.5,433V434M362.5,434V435M363.5,434V435M364.5,435V436M365.5,435V436M366.5,435V436M367.5,436V437M368.5,436V437M369.5,436V437M370.5,437V438M371.5,437V438M372.5,437V438M373.5,437V438M374.5,438V439M375.5,438V439M376.5,438V439M377.5,439V440M378.5,439V440M379.5,439V440M380.5,439V440M381.5,440V441M382.5,440V441M383.5,440V441M384.5,440V441M385.5,441V442M386.5,441V442M387.5,441V442M388.5,442V443M389.5,442V443M390.5,442V443M391.5,443V444M392.5,443V444M393.5,443V444M394.5,443V444M395.5,444V445M396.5,444V445M397.5,444V445M398.5,444V445M399.5,444V445M400.5,444V445M401.5,444V445M402.5,444V445M403.5,444V445M404.5,444V445M405.5,444V445M406.5,444V445M407.5,444V445M408.5,444V445M409.5,444V445M410.5,444V445M411.5,443V444M412.5,443V444M413.5,443V444M414.5,443V444M415.5,442V443M416.5,442V443M417.5,442V443M418.5,442V443M419.5,441V442M420.5,441V442M421.5,440V441M422.5,440V441M423.5,440V441M424.5,439V440M425.5,439V440M426.5,438V439M427.5,438V439M428.5,437V438M429.5,437V438M430.5,436V437M431.5,436V437M432.5,435V436M433.5,435V436M434.5,434V435M435.5,434V435M436.5,433V434M437.5,433V434M438.5,433V434M439.5,432V433M440.5,432V433M441.5,432V433M442.5,431V432M443.5,431V432M444.5,431V432M445.5,431V432M446.5,430V431M447.5,430V431M448.5,430V431M449.5,429V430M450.5,429V430M451.5,429V430M452.5,429V430M453.5,428V429M454.5,428V429M455.5,428V429M456.5,427V428M457.5,427V428M458.5,426V427M459.5,426V427M460.5,426V427M461.5,425V426M462.5,425V426M463.5,425V426M464.5,424V425M465.5,424V425M466.5,424V425M467.5,423V424M468.5,423V424M469.5,422V423M470.5,422V423M471.5,422V423M472.5,421V422M473.5,421V422M474.5,421V422M475.5,420V421M476.5,420V421M477.5,419V420M478.5,419V420M479.5,418V419M480.5,418V419M481.5,418V419M482.5,417V418M483.5,417V418M484.5,416V417M485.5,416V417M486.5,416V417M487.5,415V416M488.5,415V416M489.5,415V416M490.5,414V415M491.5,414V415M492.5,414V415M493.5,414V415M494.5,413V414M495.5,413V414M496.5,413V414M497.5,413V414M498.5,413V414M499.5,413V414M500.5,413V414M501.5,413V414M502.5,413V414M503.5,413V414M504.5,413V414M505.5,413V414M506.5,413V414M507.5,413V414M508.5,413V414M509.5,413V414M510.5,413V414M511.5,413V414M512.5,413V414M513.5,413V414M514.5,413V414M515.5,414V415M516.5,414V415M517.5,414V415M518.5,414V415M519.5,414V415M520.5,414V415M521.5,415V416M522.5,415V416M523.5,415V416M524.5,415V416M525.5,415V416M526.5,415V416M527.5,415V416M528.5,415V416M529.5,415V416M530.5,415V416M531.5,415V416M532.5,415V416M533.5,415V416M534.5,415V416M535.5,416V417M536.5,416V417M537.5,416V417M538.5,416V417M539.5,416V417M540.5,416V417M541.5,416V417M542.5,416V417M543.5,416V417M544.5,416V417M545.5,416V417M546.5,416V417M547.5,416V417M548.5,416V417M549.5,416V417M550.5,416V417M551.5,416V417M552.5,416V417M553.5,416V417M554.5,416V417M555.5,416V417M556.5,416V417M557.5,416V417M558.5,416V417M559.5,416V417M560.5,416V417M561.5,416V417M562.5,417V418M563.5,417V418M564.5,417V418M565.5,417V418M566.5,417V418M567.5,417V418M568.5,418V419M569.5,418V419M570.5,418V419M571.5,418V419M572.5,419V420M573.5,419V420M574.5,419V420M575.5,420V421M576.5,420V421M577.5,420V421M578.5,421V422M579.5,421V422M580.5,422V423M581.5,422V423M582.5,423V424M583.5,423V424M584.5,423V424M585.5,424V425M586.5,424V425M587.5,425V426M588.5,425V426M589.5,426V427M590.5,426V427M591.5,426V427M592.5,427V428M593.5,427V428M594.5,427V428M595.5,428V429M596.5,428V429M597.5,428V429M598.5,428V429M599.5,429V430M600.5,429V430M601.5,429V430M602.5,429V430M603.5,430V431M604.5,430V431M605.5,430V431M606.5,430V431M607.5,430V431M608.5,430V431M609.5,430V431M610.5,430V431M611.5,430V431M612.5,430V431M613.5,430V431M614.5,430V431M615.5,430V431M616.5,430V431M617.5,429V430M618.5,429V430M619.5,429V430M620.5,428V429M621.5,428V429M622.5,428V429M623.5,427V428M624.5,427V428M625.5,427V428M626.5,427V428M627.5,426V427M628.5,426V427M629.5,426V427M630.5,425V426M631.5,425V426M632.5,425V426M633.5,425V426M634.5,425V426M635.5,424V425M636.5,424V425M637.5,424V425M638.5,424V425M639.5,423V424M640.5,423V424M641.5,423V424M642.5,423V424M643.5,422V423M644.5,422V423M645.5,422V423M646.5,421V422M647.5,421V422M648.5,421V422M649.5,421V422M650.5,420V421M651.5,420V421M652.5,420V421M653.5,420V421M654.5,419V420M655.5,419V420M656.5,419V420M657.5,419V420M658.5,419V420M659.5,418V419M660.5,418V419M661.5,418V419M662.5,418V419M663.5,418V419M664.5,417V418M665.5,417V418M666.5,417V418M667.5,417V418M668.5,416V417M669.5,416V417M670.5,416V417M671.5,416V417M672.5,416V417M673.5,415V416M674.5,415V416M675.5,415V416M676.5,415V416M677.5,415V416M678.5,414V415M679.5,414V415M680.5,414V415M681.5,414V415M682.5,414V415M683.5,414V415M684.5,413V414M685.5,413V414M686.5,413V414M687.5,413V414M688.5,413V414M689.5,412V413M690.5,412V413M691.5,412V413M692.5,412V413M693.5,411V412M694.5,411V412M695.5,411V412M696.5,410V411M697.5,410V411M698.5,410V411M699.5,410V411M700.5,409V410M701.5,409V410M702.5,408V409M703.5,408V409M704.5,408V409M705.5,407V408M706.5,407V408M707.5,407V408M708.5,406V407M709.5,406V407M710.5,406V407M711.5,405V406M712.5,405V406M713.5,405V406M714.5,405V406M715.5,404V405M716.5,404V405M717.5,404V405M718.5,404V405M719.5,403V404M720.5,403V404M721.5,403V404M722.5,403V404M723.5,402V403M724.5,402V403M725.5,402V403M726.5,402V403M727.5,402V403M728.5,402V403M729.5,402V403M730.5,402V403M731.5,402V403M732.5,403V404M733.5,403V404M734.5,403V404M735.5,403V404M736.5,404V405M737.5,404V405M738.5,404V405M739.5,404V405M740.5,405V406M741.5,405V406M742.5,405V406M743.5,405V406M744.5,406V407M745.5,406V407M746.5,406V407M747.5,406V407M748.5,406V407M749.5,406V407M750.5,406V407M751.5,406V407M752.5,406V407M753.5,406V407M754.5,406V407M755.5,406V407M756.5,406V407M757.5,406V407M758.5,406V407M759.5,406V407M760.5,406V407M761.5,406V407M762.5,406V407M763.5,405V406M764.5,405V406M765.5,405V406M766.5,404V405M767.5,404V405M768.5,404V405M769.5,403V404M770.5,403V404M771.5,402V403M772.5,402V403M773.5,401V402M774.5,401V402M775.5,400V401M776.5,400V401M777.5,399V400M778.5,399V400M779.5,398V399M780.5,398V399M781.5,398V399M782.5,397V398M783.5,397V398M784.5,397V398M785.5,396V397M786.5,396V397M787.5,396V397M788.5,395V396M789.5,395V396M790.5,395V396M791.5,395V396M792.5,395V396M793.5,394V395M794.5,394V395M795.5,394V395M796.5,394V395M797.5,394V395M798.5,394V395M799.5,394V395M800.5,394V395M801.5,394V395M802.5,394V395M803.5,394V395M804.5,394V395M805.5,394V395M806.5,394V395M807.5,394V395M808.5,394V395M809.5,394V395M810.5,394V395M811.5,394V395M812.5,395V396M813.5,395V396M814.5,395V396M815.5,395V396M816.5,395V396M817.5,395V396M818.5,396V397M819.5,396V397M820.5,396V397M821.5,397V398M822.5,397V398M823.5,397V398M824.5,397V398M825.5,398V399M826.5,398V399M827.5,398V399M828.5,399V400M829.5,399V400M830.5,400V401M831.5,400V401M832.5,400V401M833.5,401V402M834.5,401V402M835.5,401V402M836.5,402V403M837.5,402V403M838.5,403V404M839.5,403V404M840.5,404V405M841.5,404V405M842.5,405V406M843.5,405V406M844.5,406V407M845.5,406V407M846.5,407V408M847.5,407V408M848.5,408V409M849.5,408V409M850.5,409V410M851.5,410V411M852.5,410V411M853.5,411V412M854.5,411V412M855.5,412V413M856.5,412V413M857.5,412V413M858.5,413V414M859.5,413V414M860.5,414V415M861.5,414V415M862.5,414V415M863.5,415V416M864.5,415V416M865.5,416V417M866.5,416V417M867.5,417V418M868.5,417V418M869.5,418V419M870.5,418V419M871.5,419V420M872.5,420V421M873.5,420V421M874.5,421V422M875.5,421V422M876.5,422V423M877.5,423V424M878.5,423V424M879.5,424V425M880.5,425V426M881.5,425V426M882.5,426V427M883.5,427V428M884.5,428V429M885.5,428V429M886.5,429V430M887.5,430V431M888.5,431V432M889.5,431V432M890.5,432V433M891.5,433V434M892.5,434V435M893.5,435V436M894.5,435V436M895.5,436V437M896.5,437V438M897.5,438V439M898.5,439V440M899.5,440V441M900.5,441V442M901.5,441V442M902.5,442V443M903.5,443V444M904.5,443V444M905.5,444V445M906.5,444V445M907.5,445V446M908.5,445V446M909.5,445V446M910.5,446V447M911.5,446V447" fill="none" stroke="#ff0000" stroke-width="1"/>
<path d="M3.5,493V494M4.5,494V495M5.5,494V495M6.5,494V495M7.5,494V495M8.5,495V496M9.5,495V496M10.5,496V497M11.5,497V498M12.5,498V499M13.5,499V501M14.5,501V502M15.5,502V504M16.5,503V504M17.5,503V504M18.5,503V504M19.5,504V505M20.5,505V506M21.5,506V507M22.5,507V508M23.5,508V509M24.5,508V509M25.5,508V509M26.5,508V509M27.5,508V509M28.5,508V509M29.5,508V509M30.5,508V509M31.5,508V509M32.5,506V508M33.5,504V506M34.5,502V504M35.5,500V502M36.5,499V500M37.5,498V499M38.5,497V498M39.5,496V497M40.5,495V496M41.5,495V496M42.5,494V495M43.5,494V495M44.5,494V495M45.5,495V496M46.5,496V497M47.5,496V497M48.5,495V496M49.5,493V495M50.5,492V493M51.5,491V492M52.5,490V491M53.5,490V491M54.5,490V491M55.5,490V491M56.5,491V492M57.5,491V492M58.5,492V493M59.5,492V493M60.5,492V493M61.5,491V492M62.5,491V492M63.5,490V491M64.5,489V490M65.5,488V489M66.5,488V489M67.5,487V488M68.5,486V487M69.5,486V487M70.5,485V486M71.5,485V486M72.5,484V485M73.5,483V484M74.5,482V483M75.5,482V483M76.5,482V483M77.5,482V483M78.5,483V484M79.5,483V484M80.5,483V484M81.5,484V485M82.5,484V485M83.5,484V485M84.5,485V486M85.5,486V487M86.5,487V488M87.5,488V489M88.5,489V490M89.5,489V490M90.5,490V491M91.5,490V491M92.5,490V491M93.5,490V491M94.5,490V491M95.5,490V491M96.5,490V491M97.5,490V491M98.5,490V491M99.5,490V491M100.5,490V491M101.5,490V491M102.5,490V491M103.5,490V491M104.5,490V491M105.5,490V491M106.5,490V491M107.5,490V491M108.5,491V492M109.5,492V493M110.5,493V494M111.5,494V495M112.5,494V495M113.5,493V494M114.5,492V493M115.5,492V493M116.5,493V494M117.5,494V495M118.5,495V496M119.5,496V497M120.5,496V497M121.5,497V498M122.5,497V498M123.5,497V498M124.5,498V499M125.5,498V499M126.5,498V499M127.5,498V499M128.5,498V499M129.5,498V499M130.5,498V499M131.5,498V499M132.5,499V500M133.5,499V500M134.5,500V501M135.5,501V502M136.5,500V501M137.5,500V501M138.5,500V501M139.5,500V501M140.5,498V500M141.5,496V498M142.5,494V496M143.5,493V494M144.5,494V495M145.5,495V496M146.5,495V496M147.5,496V497M148.5,496V497M149.5,496V497M150.5,495V496M151.5,495V496M152.5,495V496M153.5,494V495M154.5,494V495M155.5,493V494M156.5,494V495M157.5,495V496M158.5,496V497M159.5,496V497M160.5,497V499M161.5,499V500M162.5,500V501M163.5,501V502M164.5,500V501M165.5,498V500M166.5,497V498M167.5,496V497M168.5,495V496M169.5,494V495M170.5,494V495M171.5,493V494M172.5,493V494M173.5,492V493M174.5,492V493M175.5,492V493M176.5,492V493M177.5,491V492M178.5,491V492M179.5,491V492M180.5,491V492M181.5,491V492M182.5,491V492M183.5,491V492M184.5,491V492M185.5,491V492M186.5,491V492M187.5,492V493M188.5,491V492M189.5,490V491M190.5,489V490M191.5,488V489M192.5,489V490M193.5,489V490M194.5,489V490M195.5,489V490M196.5,489V490M197.5,490V491M198.5,490V491M199.5,491V492M200.5,490V491M201.5,488V490M202.5,487V488M203.5,486V487M204.5,486V487M205.5,487V488M206.5,487V488M207.5,488V489M208.5,487V488M209.5,486V487M210.5,485V486M211.5,484V485M212.5,483V484M213.5,483V484M214.5,482V483M215.5,482V483M216.5,482V483M217.5,482V483M218.5,481V482M219.5,481V482M220.5,481V482M221.5,481V482M222.5,481V482M223.5,481V482M224.5,481V482M225.5,482V483M226.5,482V483M227.5,483V484M228.5,482V483M229.5,480V482M230.5,479V480M231.5,478V479M232.5,478V479M233.5,477V478M234.5,477V478M235.5,476V477M236.5,477V479M237.5,479V481M238.5,481V482M239.5,482V484M240.5,483V484M241.5,483V484M242.5,483V484M243.5,482V483M244.5,482V483M245.5,482V483M246.5,482V483M247.5,482V483M248.5,482V483M249.5,481V482M250.5,481V482M251.5,481V482M252.5,480V481M253.5,480V481M254.5,480V481M255.5,479V480M256.5,480V481M257.5,480V481M258.5,481V482M259.5,481V482M260.5,481V482M261.5,480V481M262.5,480V481M263.5,479V480M264.5,479V480M265.5,480V481M266.5,480V481M267.5,480V481M268.5,480V481M269.5,480V481M270.5,481V482M271.5,481V482M272.5,481V482M273.5,481V482M274.5,481V482M275.5,481V482M276.5,482V484M276.5,484V485M277.5,485V487M278.5,487V489M278.5,489V490M279.5,490V492M280.5,490V491M281.5,490V491M282.5,489V490M283.5,488V489M284.5,489V490M285.5,490V492M286.5,492V493M287.5,493V494M288.5,494V495M289.5,494V495M290.5,494V495M291.5,495V496M292.5,495V496M293.5,495V496M294.5,495V496M295.5,495V496M296.5,494V495M297.5,494V495M298.5,493V494M299.5,492V493M300.5,493V494M301.5,494V495M302.5,495V496M303.5,496V497M304.5,497V498M305.5,497V498M306.5,498V499M307.5,499V500M308.5,500V501M309.5,500V501M310.5,501V502M311.5,502V503M312.5,501V502M313.5,499V501M314.5,498V499M315.5,497V498M316.5,497V498M317.5,497V498M318.5,497V498M319.5,497V498M320.5,497V498M321.5,496V497M322.5,496V497M323.5,496V497M324.5,497V498M325.5,497V498M326.5,498V499M327.5,499V500M328.5,500V501M329.5,500V501M330.5,501V502M331.5,501V502M332.5,501V502M333.5,501V502M334.5,500V501M335.5,500V501M336.5,501V502M337.5,501V502M338.5,502V503M339.5,503V504M340.5,503V504M341.5,503V504M342.5,503V504M343.5,503V504M344.5,503V504M345.5,503V504M346.5,503V504M347.5,503V504M348.5,503V504M349.5,503V504M350.5,503V504M351.5,503V504M352.5,504V505M353.5,504V505M354.5,504V505M355.5,505V506M356.5,505V506M357.5,506V507M358.5,506V507M359.5,506V507M360.5,507V508M361.5,508V509M362.5,508V509M363.5,509V510M364.5,508V509M365.5,507V508M366.5,506V507M367.5,506V507M368.5,505V506M369.5,505V506M370.5,505V506M371.5,505V506M372.5,505V506M373.5,506V507M374.5,506V507M375.5,506V507M376.5,507V508M377.5,507V508M378.5,507V508M379.5,507V508M380.5,508V509M381.5,508V509M382.5,508V509M383.5,508V509M384.5,509V510M385.5,510V511M386.5,511V512M387.5,512V513M388.5,511V512M389.5,510V511M390.5,510V511M391.5,509V510M392.5,508V509M393.5,507V508M394.5,506V507M395.5,505V506M396.5,503V505M397.5,501V503M398.5,499V501M399.5,497V499M400.5,496V497M401.5,495V496M402.5,494V495M403.5,493V494M404.5,493V494M405.5,494V495M406.5,494V495M407.5,495V496M408.5,494V495M409.5,494V495M410.5,493V494M411.5,493V494M412.5,493V494M413.5,493V494M414.5,493V494M415.5,493V494M416.5,494V495M417.5,494V495M418.5,495V496M419.5,496V497M420.5,496V497M421.5,497V498M422.5,497V498M423.5,497V498M424.5,496V497M425.5,495V496M426.5,493V495M427.5,492V493M428.5,492V493M429.5,492V493M430.5,491V492M431.5,491V492M432.5,492V493M433.5,493V494M434.5,494V495M435.5,494V495M436.5,495V496M437.5,495V496M438.5,495V496M439.5,496V497M440.5,496V497M441.5,496V497M442.5,496V497M443.5,496V497M444.5,495V496M445.5,494V495M446.5,493V494M447.5,493V494M448.5,491V493M449.5,490V491M450.5,489V490M451.5,488V489M452.5,487V488M453.5,487V488M454.5,487V488M455.5,486V487M456.5,486V487M457.5,487V488M458.5,487V488M459.5,487V488M460.5,487V488M461.5,487V488M462.5,487V488M463.5,487V488M464.5,486V487M465.5,486V487M466.5,486V487M467.5,486V487M468.5,486V487M469.5,486V487M470.5,486V487M471.5,487V488M472.5,486V487M473.5,485V486M474.5,485V486M475.5,484V485M476.5,485V486M477.5,485V486M478.5,485V486M479.5,486V487M480.5,485V486M481.5,485V486M482.5,484V485M483.5,484V485M484.5,484V485M485.5,484V485M486.5,484V485M487.5,484V485M488.5,485V487M489.5,487V489M490.5,489V491M491.5,491V493M492.5,491V492M493.5,490V491M494.5,489V490M495.5,488V489M496.5,489V490M497.5,489V490M498.5,490V491M499.5,490V491M500.5,491V492M501.5,492V494M502.5,494V495M503.5,495V496M504.5,495V496M505.5,494V495M506.5,493V494M507.5,493V494M508.5,493V494M509.5,493V494M510.5,493V494M511.5,493V494M512.5,493V494M513.5,493V494M514.5,493V494M515.5,493V494M516.5,493V494M517.5,492V493M518.5,491V492M519.5,490V491M520.5,489V490M521.5,487V489M522.5,486V487M523.5,485V486M524.5,485V486M525.5,485V486M526.5,485V486M527.5,485V486M528.5,486V488M529.5,488V489M530.5,489V491M531.5,491V493M532.5,491V492M533.5,491V492M534.5,491V492M535.5,491V492M536.5,491V492M537.5,491V492M538.5,491V492M539.5,491V492M540.5,492V493M541.5,492V493M542.5,493V494M543.5,494V495M544.5,493V494M545.5,492V493M546.5,491V492M547.5,491V492M548.5,491V492M549.5,491V492M550.5,491V492M551.5,491V492M552.5,492V493M553.5,493V494M554.5,494V495M555.5,494V495M556.5,494V495M557.5,494V495M558.5,494V495M559.5,493V494M560.5,494V495M561.5,495V496M562.5,495V496M563.5,496V497M564.5,496V497M565.5,496V497M566.5,496V497M567.5,496V497M568.5,496V497M569.5,497V498M570.5,498V499M571.5,499V500M572.5,500V501M573.5,501V502M574.5,502V504M575.5,504V505M576.5,505V506M577.5,505V506M578.5,506V507M579.5,506V507M580.5,506V507M581.5,505V506M582.5,505V506M583.5,505V506M584.5,503V505M585.5,501V503M586.5,499V501M587.5,497V499M588.5,496V497M589.5,495V496M590.5,494V495M591.5,492V494M592.5,493V494M593.5,493V494M594.5,493V494M595.5,493V494M596.5,493V494M597.5,492V493M598.5,492V493M599.5,492V493M600.5,493V494M601.5,494V495M602.5,495V496M603.5,496V497M604.5,496V497M605.5,496V497M606.5,496V497M607.5,496V497M608.5,495V496M609.5,494V495M610.5,493V494M611.5,492V493M612.5,491V492M613.5,491V492M614.5,491V492M615.5,491V492M616.5,490V491M617.5,489V490M618.5,489V490M619.5,488V489M620.5,489V490M621.5,489V490M622.5,489V490M623.5,490V491M624.5,490V491M625.5,491V492M626.5,492V493M627.5,493V494M628.5,492V493M629.5,492V493M630.5,491V492M631.5,491V492M632.5,491V492M633.5,491V492M634.5,492V493M635.5,492V493M636.5,492V493M637.5,491V492M638.5,491V492M639.5,491V492M640.5,490V491M641.5,489V490M642.5,488V489M643.5,487V488M644.5,487V488M645.5,488V489M646.5,488V489M647.5,488V489M648.5,488V489M649.5,488V489M650.5,488V489M651.5,488V489M652.5,488V489M653.5,489V490M654.5,489V490M655.5,489V490M656.5,489V490M657.5,489V490M658.5,488V489M659.5,488V489M660.5,487V488M661.5,486V487M662.5,486V487M663.5,485V486M664.5,485V486M665.5,485V486M666.5,485V486M667.5,484V485M668.5,485V487M669.5,487V489M670.5,489V491M671.5,491V493M672.5,490V492M673.5,489V490M674.5,487V489M675.5,486V487M676.5,487V488M677.5,488V489M678.5,489V490M679.5,490V491M680.5,489V490M681.5,488V489M682.5,486V488M683.5,485V486M684.5,485V486M685.5,485V486M686.5,485V486M687.5,485V486M688.5,485V486M689.5,484V485M690.5,484V485M691.5,483V484M692.5,483V484M693.5,482V483M694.5,482V483M695.5,481V482M696.5,481V482M697.5,480V481M698.5,480V481M699.5,479V480M700.5,479V480M701.5,479V480M702.5,479V480M703.5,478V479M704.5,479V481M705.5,481V482M706.5,482V484M707.5,484V486M708.5,486V487M709.5,487V488M710.5,488V489M711.5,489V490M712.5,488V489M713.5,488V489M714.5,487V488M715.5,486V487M716.5,486V487M717.5,485V486M718.5,484V485M719.5,484V485M720.5,485V486M721.5,486V487M722.5,487V489M723.5,489V490M724.5,489V490M725.5,489V490M726.5,489V490M727.5,489V490M728.5,490V491M729.5,491V493M730.5,493V494M731.5,494V496M732.5,495V496M733.5,495V496M734.5,495V496M735.5,495V496M736.5,493V495M737.5,492V493M738.5,491V492M739.5,489V491M740.5,488V489M741.5,487V488M742.5,486V487M743.5,485V486M744.5,485V486M745.5,484V485M746.5,484V485M747.5,484V485M748.5,484V485M749.5,484V485M750.5,484V485M751.5,484V485M752.5,484V485M753.5,484V485M754.5,485V486M755.5,485V486M756.5,484V485M757.5,483V484M758.5,483V484M759.5,482V483M760.5,481V482M761.5,481V482M762.5,481V482M763.5,480V481M764.5,480V481M765.5,480V481M766.5,480V481M767.5,480V481M768.5,480V481M769.5,480V481M770.5,480V481M771.5,480V481M772.5,480V481M773.5,480V481M774.5,480V481M775.5,480V481M776.5,480V481M777.5,481V482M778.5,481V482M779.5,482V483M780.5,482V483M781.5,481V482M782.5,481V482M783.5,481V482M784.5,481V482M785.5,482V483M786.5,482V483M787.5,482V483M788.5,482V483M789.5,483V484M790.5,483V484M791.5,483V484M792.5,483V484M793.5,483V484M794.5,483V484M795.5,483V484M796.5,483V484M797.5,484V485M798.5,484V485M799.5,484V485M800.5,483V484M801.5,482V483M802.5,481V482M803.5,481V482M804.5,480V481M805.5,479V480M806.5,479V480M807.5,478V479M808.5,479V481M809.5,481V483M810.5,483V485M811.5,485V487M812.5,487V488M813.5,487V488M814.5,488V489M815.5,488V489M816.5,489V490M817.5,489V490M818.5,489V490M819.5,490V491M820.5,490V491M821.5,490V491M822.5,490V491M823.5,491V492M824.5,491V492M825.5,492V493M826.5,492V493M827.5,493V494M828.5,492V493M829.5,491V492M830.5,491V492M831.5,490V491M832.5,490V491M833.5,490V491M834.5,490V491M835.5,490V491M836.5,491V492M837.5,492V493M838.5,493V494M839.5,494V495M840.5,494V495M841.5,494V495M842.5,494V495M843.5,495V496M844.5,495V496M845.5,495V496M846.5,495V496M847.5,495V496M848.5,495V496M849.5,496V497M850.5,497V498M851.5,497V498M852.5,496V497M853.5,496V497M854.5,495V496M855.5,494V495M856.5,493V494M857.5,492V493M858.5,491V492M859.5,490V491M860.5,491V492M861.5,492V494M862.5,494V495M863.5,495V497M864.5,497V498M865.5,498V500M866.5,500V501M867.5,501V503M868.5,502V503M869.5,502V503M870.5,502V503M871.5,502V503M872.5,502V503M873.5,503V504M874.5,504V505M875.5,504V505M876.5,504V505M877.5,505V506M878.5,505V506M879.5,505V506M880.5,506V507M881.5,506V507M882.5,506V507M883.5,506V507M884.5,506V507M885.5,506V507M886.5,506V507M887.5,507V508M888.5,507V508M889.5,507V508M890.5,507V508M891.5,507V508M892.5,508V509M893.5,508V509M894.5,508V509M895.5,508V509M896.5,508V509M897.5,508V509M898.5,508V509M899.5,509V510M900.5,507V509M901.5,506V507M902.5,504V506M903.5,503V504M903.5,502V503M904.5,500V502M904.5,499V500M905.5,497V499M906.5,495V497M906.5,494V495M907.5,492V494M908.5,493V494M909.5,494V496M910.5,496V498M911.5,498V499" fill="none" stroke="#1e90ff" stroke-width="1"/>
</svg>
<svg width="1191" height="572" viewBox="0 0 1191 572">
<polygon points="6,36.5 14,36.5 10,32" fill="#000"/>
</svg>
<div class="t ax" style="left:1155px;top:49px;">0.76370</div>
<div class="t ax" style="left:1155px;top:82px;">0.75690</div>
<div class="t ax" style="left:1155px;top:115px;">0.75010</div>
<div class="t ax" style="left:1155px;top:148px;">0.74330</div>
<div class="t ax" style="left:1155px;top:181px;">0.73650</div>
<div class="t ax" style="left:1155px;top:214px;">0.72970</div>
<div class="t ax" style="left:1155px;top:247px;">0.72270</div>
<div class="t ax" style="left:1155px;top:280px;">0.71590</div>
<div class="t ax" style="left:1155px;top:313px;">0.70910</div>
<div class="t ax" style="left:1155px;top:346px;">0.70230</div>
<div class="t ax" style="left:1155px;top:379px;">0.69550</div>
<div class="t ax" style="left:1153px;top:391.5px;">0.00811</div>
<div class="t ax" style="left:1153px;top:414.5px;">0.00</div>
<div class="t ax" style="left:1152.5px;top:443.5px;">-0.010311</div>
<div class="t ax" style="left:1153px;top:460px;">100</div>
<div class="t ax" style="left:1153px;top:474.5px;">70</div>
<div class="t ax" style="left:1153px;top:500.5px;">30</div>
<div class="t ax" style="left:1153px;top:514.5px;">0</div>
<div class="lbl" style="top:89px;background:#ff0000;"><span>0.75512</span></div>
<div class="lbl" style="top:162px;background:#ff0000;"><span>0.74002</span></div>
<div class="lbl" style="top:234px;background:#00ff00;"><span>0.72504</span></div>
<div class="lbl" style="top:299px;background:#000;"><span>0.71178</span></div>
<div class="lbl" style="top:306px;background:#0000cd;"><span>0.71013</span></div>
<div class="lbl" style="top:375px;background:#0000ff;"><span>0.69582</span></div>
<div class="t ax" style="left:2.5px;top:530px;letter-spacing:-0.3px;">13 Aug 2021</div>
<div class="t ax" style="left:66.5px;top:530px;letter-spacing:-0.3px;">1 Sep 2021</div>
<div class="t ax" style="left:130.5px;top:530px;letter-spacing:-0.3px;">20 Sep 2021</div>
<div class="t ax" style="left:194.5px;top:530px;letter-spacing:-0.3px;">8 Oct 2021</div>
<div class="t ax" style="left:258.5px;top:530px;letter-spacing:-0.3px;">27 Oct 2021</div>
<div class="t ax" style="left:322.5px;top:530px;letter-spacing:-0.3px;">15 Nov 2021</div>
<div class="t ax" style="left:386.5px;top:530px;letter-spacing:-0.3px;">3 Dec 2021</div>
<div class="t ax" style="left:450.5px;top:530px;letter-spacing:-0.3px;">22 Dec 2021</div>
<div class="t ax" style="left:514.5px;top:530px;letter-spacing:-0.3px;">10 Jan 2022</div>
<div class="t ax" style="left:578.5px;top:530px;letter-spacing:-0.3px;">28 Jan 2022</div>
<div class="t ax" style="left:642.5px;top:530px;letter-spacing:-0.3px;">16 Feb 2022</div>
<div class="t ax" style="left:706.5px;top:530px;letter-spacing:-0.3px;">7 Mar 2022</div>
<div class="t ax" style="left:770.5px;top:530px;letter-spacing:-0.3px;">25 Mar 2022</div>
<div class="t ax" style="left:834.5px;top:530px;letter-spacing:-0.3px;">13 Apr 2022</div>
<div class="t ax" style="left:898.5px;top:530px;letter-spacing:-0.3px;">2 May 2022</div>
<div class="t" style="left:18.5px;top:28px;font-size:10px;letter-spacing:-0.16px;">AUDUSD-,Daily</div>
<div class="t" style="left:93px;top:28px;font-size:10px;letter-spacing:-0.39px;">0.72503 0.72651 0.70763 0.71178</div>
<div class="t tx" style="left:7px;top:394px;">MACD(12,26,9) -0.007884 -0.007953</div>
<div class="t tx" style="left:7px;top:462px;">RSI(14) 39.4625</div>

<div style="position:absolute;left:5px;top:43px;width:221px;height:59px;background:#fff;"></div>
<div style="position:absolute;left:6px;top:44px;width:51px;height:24px;background:linear-gradient(#f84c4c,#e23434);"></div>
<div style="position:absolute;left:173px;top:44px;width:52px;height:24px;background:linear-gradient(#f84c4c,#e23434);"></div>
<div style="position:absolute;left:6px;top:68px;width:109px;height:33px;background:linear-gradient(#de3030,#b00000);"></div>
<div style="position:absolute;left:117px;top:68px;width:108px;height:33px;background:linear-gradient(#de3030,#b00000);"></div>
<div style="position:absolute;left:10px;top:67px;width:44px;height:1px;background:#a01010;"></div>
<div style="position:absolute;left:10px;top:68px;width:44px;height:1px;background:#f06060;"></div>
<div style="position:absolute;left:177px;top:67px;width:44px;height:1px;background:#a01010;"></div>
<div style="position:absolute;left:177px;top:68px;width:44px;height:1px;background:#f06060;"></div>
<div style="position:absolute;left:57px;top:44px;width:116px;height:24px;background:#fff;"></div>
<div style="position:absolute;left:60px;top:44px;width:109px;height:20px;background:#fff;border:1px solid #b4b4b4;"></div>
<div style="position:absolute;left:61px;top:45px;width:19px;height:20px;background:linear-gradient(#f4f4f4,#d0d0d0);border-right:1px solid #b4b4b4;"></div>
<div style="position:absolute;left:150px;top:45px;width:20px;height:20px;background:linear-gradient(#f4f4f4,#d0d0d0);border-left:1px solid #b4b4b4;"></div>
<svg width="1191" height="572" viewBox="0 0 1191 572"><polygon points="67.5,53 73.5,53 70.5,56.5" fill="#5068b8"/><polygon points="157.5,56.5 163.5,56.5 160.5,53" fill="#5068b8"/></svg>
<div class="t" style="left:18px;top:50px;font-size:12px;color:#fff;transform-origin:0 0;transform:scaleX(0.87);">SELL</div>
<div class="t" style="left:186.5px;top:50px;font-size:12px;color:#fff;transform-origin:0 0;transform:scaleX(0.87);">BUY</div>
<div class="t" style="left:122px;top:49px;font-size:12px;color:#000;transform-origin:0 0;transform:scaleX(1.0);">2.00</div>
<div class="t" style="left:26px;top:85.5px;font-size:11.5px;font-weight:bold;letter-spacing:0.6px;color:#fff;">0.71</div>
<div class="t" style="left:136px;top:85.5px;font-size:11.5px;font-weight:bold;letter-spacing:0.6px;color:#fff;">0.71</div>
<div class="t" style="left:53px;top:67px;font-size:32px;color:#fff;transform-origin:0 0;transform:scaleX(1.0);">17</div>
<div class="t" style="left:164px;top:67px;font-size:32px;color:#fff;transform-origin:0 0;transform:scaleX(0.97);">20</div>
<div class="t" style="left:93px;top:69.5px;font-size:12.5px;font-weight:bold;color:#fff;">8</div>
<div class="t" style="left:203.5px;top:69.5px;font-size:12.5px;font-weight:bold;color:#fff;">0</div>


<div style="position:absolute;left:0;top:546px;width:1191px;height:2px;background:linear-gradient(#f4f4f4,#d8d8d8);"></div>
<div style="position:absolute;left:0;top:548px;width:1191px;height:1px;background:#000;"></div>
<div style="position:absolute;left:0;top:549px;width:1191px;height:20px;background:#f0f0f0;"></div>
<div style="position:absolute;left:0;top:569px;width:1191px;height:3px;background:#fafafa;"></div>
<div style="position:absolute;left:212px;top:548px;width:106px;height:18px;background:#fff;border:1px solid #000;border-top:none;"></div>

<div class="t tab" style="left:15.5px;top:553px;">USDX,Weekly</div>
<div class="t tab" style="left:115.5px;top:553px;">EURUSD-,Daily</div>
<div class="t tab" style="left:222px;top:553px;color:#000;">AUDUSD-,Daily</div>
<div class="t tab" style="left:331px;top:553px;">USDCHF-,Daily</div>
<div class="t tab" style="left:439px;top:553px;">USDCAD-,Daily</div>
<div class="t tab" style="left:548px;top:553px;">USDCNH-,Daily</div>
<div class="t tab" style="left:659px;top:553px;">XAUUSD-,Daily</div>
<div class="t tab" style="left:768px;top:553px;">UKOil-,Daily</div>
<div class="t tab" style="left:860px;top:553px;">DJ30-,Daily</div>
<div class="t tab" style="left:947px;top:553px;">UK100-,H1</div>
<div class="t tab" style="left:1032px;top:553px;">USOil-,Daily</div>
<div class="t tab" style="left:1122px;top:553px;">HK50-,</div>
<div style="position:absolute;left:104px;top:552px;width:1px;height:13px;background:#808080;"></div>
<div style="position:absolute;left:428px;top:552px;width:1px;height:13px;background:#808080;"></div>
<div style="position:absolute;left:537px;top:552px;width:1px;height:13px;background:#808080;"></div>
<div style="position:absolute;left:647px;top:552px;width:1px;height:13px;background:#808080;"></div>
<div style="position:absolute;left:757px;top:552px;width:1px;height:13px;background:#808080;"></div>
<div style="position:absolute;left:849px;top:552px;width:1px;height:13px;background:#808080;"></div>
<div style="position:absolute;left:936px;top:552px;width:1px;height:13px;background:#808080;"></div>
<div style="position:absolute;left:1020px;top:552px;width:1px;height:13px;background:#808080;"></div>
<div style="position:absolute;left:1111px;top:552px;width:1px;height:13px;background:#808080;"></div>
<div style="position:absolute;left:1158px;top:549px;width:33px;height:20px;background:#f0f0f0;"></div>
<svg width="1191" height="572" viewBox="0 0 1191 572"><polygon points="1168,554.5 1168,561.5 1164.5,558" fill="#808080"/><polygon points="1183,554.5 1183,561.5 1186.5,558" fill="#000"/></svg>
</body></html>
